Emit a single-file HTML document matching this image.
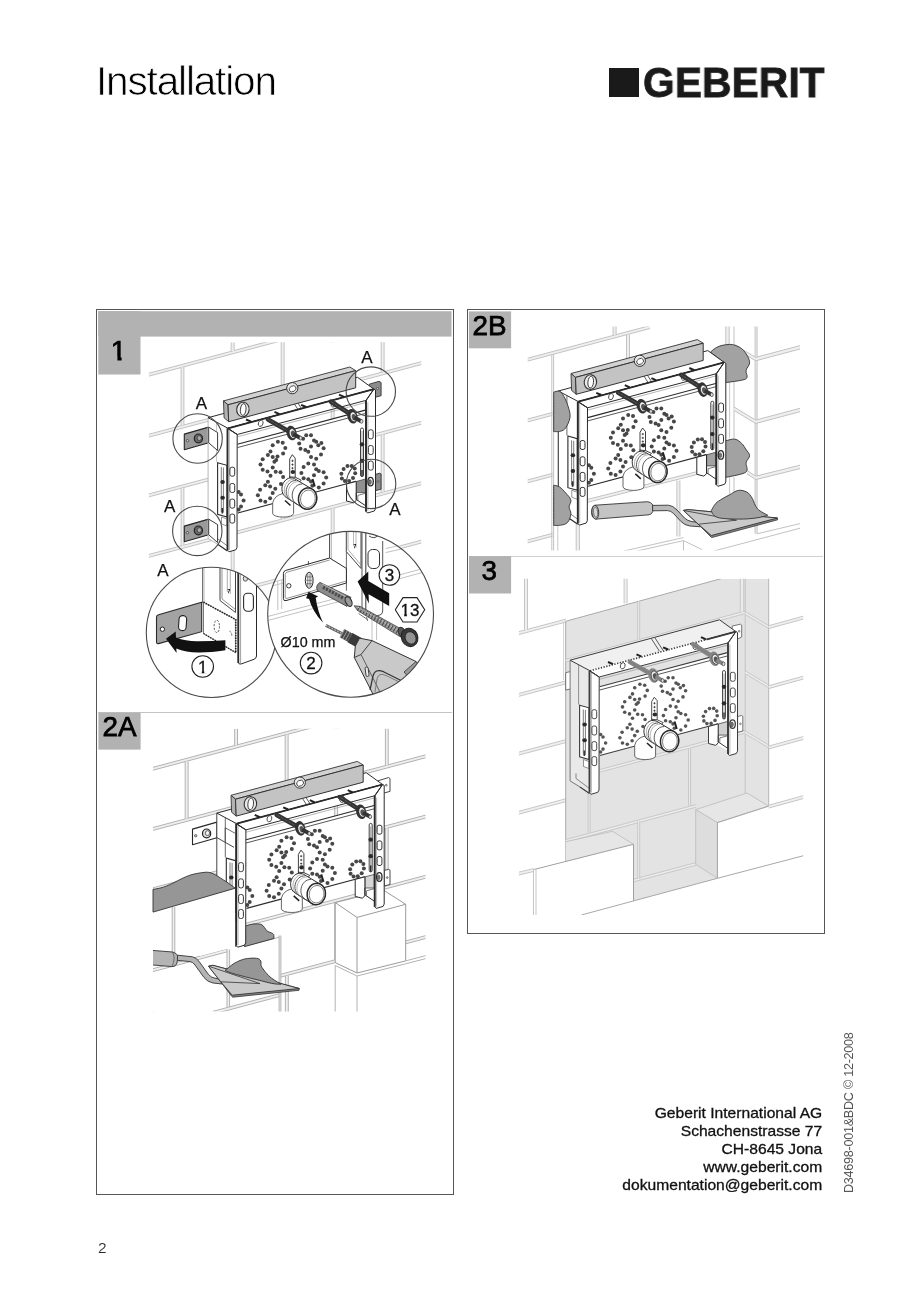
<!DOCTYPE html>
<html><head><meta charset="utf-8"><title>Installation</title>
<style>
html,body{margin:0;padding:0;background:#fff;}
body{width:920px;height:1290px;position:relative;overflow:hidden;font-family:"Liberation Sans",sans-serif;color:#111;}
.abs{position:absolute;}
h1{will-change:transform;position:absolute;left:96px;top:57.5px;margin:0;font-weight:400;font-size:40.5px;line-height:46px;letter-spacing:-1.15px;color:#000;-webkit-text-stroke:0.75px #fff;}
.logo{position:absolute;left:609px;top:68px;height:29px;}
.logo .sq{position:absolute;left:0;top:0;width:30px;height:29px;background:#1a1a1a;}
.logo .tx{position:absolute;left:33.5px;top:-7.5px;font-weight:700;font-size:41.6px;line-height:44px;letter-spacing:0.1px;color:#1a1a1a;transform-origin:0 0;transform:scaleX(0.979);-webkit-text-stroke:0.8px #1a1a1a;white-space:nowrap;will-change:transform;}
.frame{position:absolute;border:1.2px solid #555;box-sizing:border-box;}
.lab{position:absolute;background:#b3b3b3;font-size:26.5px;line-height:30px;color:#000;}
.lab span{position:absolute;white-space:nowrap;-webkit-text-stroke:0.7px #000;}
.addr{will-change:transform;position:absolute;right:98px;top:1104.2px;text-align:right;font-size:14.4px;line-height:18px;color:#111;-webkit-text-stroke:0.3px #111;white-space:nowrap;transform-origin:100% 0;transform:scaleX(1.085);}
.vert{will-change:transform;position:absolute;left:841.5px;top:1193.2px;transform-origin:0 0;transform:rotate(-90deg);font-size:12.6px;letter-spacing:-0.26px;line-height:14px;color:#555;white-space:nowrap;}
.pno{will-change:transform;position:absolute;left:97.6px;top:1239px;font-size:15.5px;line-height:18px;color:#2a2a2a;-webkit-text-stroke:0.15px #fff;}
svg{position:absolute;left:0;top:0;will-change:transform;}
</style></head><body>
<h1>Installation</h1>
<div class="logo"><div class="sq"></div><div class="tx">GEBERIT</div></div>

<div class="frame" style="left:96px;top:309px;width:358px;height:886px;"></div>
<div class="frame" style="left:466.5px;top:309px;width:358.5px;height:625px;"></div>
<!-- dividers -->
<div class="abs" style="left:98px;top:712px;width:354px;height:1px;background:#c4c4c4;"></div>
<div class="abs" style="left:468.5px;top:555.5px;width:354px;height:1px;background:#d0d0d0;"></div>
<!-- label boxes -->

<svg id="art" width="920" height="1290" viewBox="0 0 920 1290" font-family="Liberation Sans, sans-serif">
<!--PANEL1-->
<defs>
<clipPath id="c1"><rect x="148.7" y="342.3" width="272.8" height="280"/></clipPath>
<clipPath id="cd1"><circle cx="211.4" cy="632.4" r="65.1"/></clipPath>
<clipPath id="cd2"><circle cx="350.6" cy="614.3" r="82.9"/></clipPath>
</defs><g id="p1"><g clip-path="url(#c1)"><path d="M148.7 374.8 L421.5 302" fill="none" stroke="#efefef" stroke-width="2.6" /><path d="M148.7 373.3 L421.5 300.6" fill="none" stroke="#c2c2c2" stroke-width="1" /><path d="M148.7 376.2 L421.5 303.5" fill="none" stroke="#c2c2c2" stroke-width="1" /><path d="M148.7 435.8 L421.5 363" fill="none" stroke="#efefef" stroke-width="2.6" /><path d="M148.7 434.3 L421.5 361.6" fill="none" stroke="#c2c2c2" stroke-width="1" /><path d="M148.7 437.2 L421.5 364.5" fill="none" stroke="#c2c2c2" stroke-width="1" /><path d="M148.7 495.4 L421.5 422.7" fill="none" stroke="#efefef" stroke-width="2.6" /><path d="M148.7 494 L421.5 421.3" fill="none" stroke="#c2c2c2" stroke-width="1" /><path d="M148.7 496.9 L421.5 424.2" fill="none" stroke="#c2c2c2" stroke-width="1" /><path d="M148.7 556 L421.5 483.2" fill="none" stroke="#efefef" stroke-width="2.6" /><path d="M148.7 554.5 L421.5 481.8" fill="none" stroke="#c2c2c2" stroke-width="1" /><path d="M148.7 557.4 L421.5 484.7" fill="none" stroke="#c2c2c2" stroke-width="1" /><path d="M148.7 614.2 L421.5 541.5" fill="none" stroke="#efefef" stroke-width="2.6" /><path d="M148.7 612.8 L421.5 540.1" fill="none" stroke="#c2c2c2" stroke-width="1" /><path d="M148.7 615.7 L421.5 543" fill="none" stroke="#c2c2c2" stroke-width="1" /><path d="M232.7 342.3 L232.7 350.9" fill="none" stroke="#efefef" stroke-width="2.6" /><path d="M231.2 342.3 L231.2 351.3" fill="none" stroke="#c2c2c2" stroke-width="1" /><path d="M234.1 342.3 L234.1 350.5" fill="none" stroke="#c2c2c2" stroke-width="1" /><path d="M332.7 342.3 L332.7 324.3" fill="none" stroke="#efefef" stroke-width="2.6" /><path d="M331.2 342.3 L331.2 324.7" fill="none" stroke="#c2c2c2" stroke-width="1" /><path d="M334.1 342.3 L334.1 323.9" fill="none" stroke="#c2c2c2" stroke-width="1" /><path d="M182.5 367.2 L182.5 425.3" fill="none" stroke="#efefef" stroke-width="2.6" /><path d="M181.1 367.6 L181.1 425.7" fill="none" stroke="#c2c2c2" stroke-width="1" /><path d="M183.9 366.8 L183.9 424.9" fill="none" stroke="#c2c2c2" stroke-width="1" /><path d="M282.7 340.5 L282.7 398.6" fill="none" stroke="#efefef" stroke-width="2.6" /><path d="M281.2 340.9 L281.2 399" fill="none" stroke="#c2c2c2" stroke-width="1" /><path d="M284.1 340.1 L284.1 398.2" fill="none" stroke="#c2c2c2" stroke-width="1" /><path d="M382.7 313.8 L382.7 371.9" fill="none" stroke="#efefef" stroke-width="2.6" /><path d="M381.2 314.2 L381.2 372.3" fill="none" stroke="#c2c2c2" stroke-width="1" /><path d="M384.1 313.5 L384.1 371.6" fill="none" stroke="#c2c2c2" stroke-width="1" /><path d="M232.7 414.8 L232.7 471.6" fill="none" stroke="#efefef" stroke-width="2.6" /><path d="M231.2 415.2 L231.2 472" fill="none" stroke="#c2c2c2" stroke-width="1" /><path d="M234.1 414.4 L234.1 471.2" fill="none" stroke="#c2c2c2" stroke-width="1" /><path d="M332.7 388.2 L332.7 445" fill="none" stroke="#efefef" stroke-width="2.6" /><path d="M331.2 388.6 L331.2 445.4" fill="none" stroke="#c2c2c2" stroke-width="1" /><path d="M334.1 387.8 L334.1 444.6" fill="none" stroke="#c2c2c2" stroke-width="1" /><path d="M182.5 487.9 L182.5 545.5" fill="none" stroke="#efefef" stroke-width="2.6" /><path d="M181.1 488.3 L181.1 545.9" fill="none" stroke="#c2c2c2" stroke-width="1" /><path d="M183.9 487.5 L183.9 545.1" fill="none" stroke="#c2c2c2" stroke-width="1" /><path d="M282.7 461.2 L282.7 518.8" fill="none" stroke="#efefef" stroke-width="2.6" /><path d="M281.2 461.6 L281.2 519.2" fill="none" stroke="#c2c2c2" stroke-width="1" /><path d="M284.1 460.8 L284.1 518.4" fill="none" stroke="#c2c2c2" stroke-width="1" /><path d="M382.7 434.5 L382.7 492.1" fill="none" stroke="#efefef" stroke-width="2.6" /><path d="M381.2 434.9 L381.2 492.5" fill="none" stroke="#c2c2c2" stroke-width="1" /><path d="M384.1 434.2 L384.1 491.8" fill="none" stroke="#c2c2c2" stroke-width="1" /><path d="M232.7 535 L232.7 590.4" fill="none" stroke="#efefef" stroke-width="2.6" /><path d="M231.2 535.4 L231.2 590.8" fill="none" stroke="#c2c2c2" stroke-width="1" /><path d="M234.1 534.6 L234.1 590" fill="none" stroke="#c2c2c2" stroke-width="1" /><path d="M332.7 508.4 L332.7 563.8" fill="none" stroke="#efefef" stroke-width="2.6" /><path d="M331.2 508.8 L331.2 564.2" fill="none" stroke="#c2c2c2" stroke-width="1" /><path d="M334.1 508 L334.1 563.4" fill="none" stroke="#c2c2c2" stroke-width="1" /></g><path d="M208.7 519.1 L217.6 524.6 L217.6 542.5 L208.7 534.8Z" fill="#fff" stroke="#3a3a3a" stroke-width="1" /><path d="M184.3 526.1 L208.7 519.1 L208.7 534.8 L184.3 541.7Z" fill="#9a9a9a" stroke="#262626" stroke-width="1.1" stroke-linejoin="round"/><circle cx="187.5" cy="532.7" r="1.2" fill="#ccc" stroke="#333" stroke-width="0.7"/><ellipse cx="198.4" cy="530.4" rx="4.1" ry="4.4" fill="#6a6a6a" stroke="#222" stroke-width="1.2"/><ellipse cx="199.3" cy="530.1" rx="2.2" ry="2.4" fill="#a8a8a8" stroke="#333" stroke-width="0.7"/><path d="M208.7 427.1 L217.6 432.6 L217.6 450.5 L208.7 442.8Z" fill="#fff" stroke="#3a3a3a" stroke-width="1" /><path d="M184.3 434.1 L208.7 427.1 L208.7 442.8 L184.3 449.7Z" fill="#9a9a9a" stroke="#262626" stroke-width="1.1" stroke-linejoin="round"/><circle cx="187.5" cy="440.7" r="1.2" fill="#ccc" stroke="#333" stroke-width="0.7"/><ellipse cx="198.4" cy="438.4" rx="4.1" ry="4.4" fill="#6a6a6a" stroke="#222" stroke-width="1.2"/><ellipse cx="199.3" cy="438.1" rx="2.2" ry="2.4" fill="#a8a8a8" stroke="#333" stroke-width="0.7"/><path d="M369.3 384.2 L379.1 381.3 L381.1 382.6 L381.1 395.7 L376.5 397 L369.3 397Z" fill="#8c8c8c" stroke="#333" stroke-width="0.9" stroke-linejoin="round"/><circle cx="377.5" cy="388.5" r="1.1" fill="#ccc" stroke="#333" stroke-width="0.6"/><path d="M375.6 474.3 L379.8 473.2 L381.1 474 L381.1 489.3 L375.6 490.6Z" fill="#8c8c8c" stroke="#333" stroke-width="0.9" stroke-linejoin="round"/><circle cx="378" cy="481.5" r="0.9" fill="#ccc" stroke="#333" stroke-width="0.6"/><g id="asm"><path d="M208.1 417.7 L227.5 429 L227.5 551 L208.1 538.4Z" fill="#fff" stroke="none" stroke-width="1" /><path d="M208.1 417.7 L208.1 538.4 L218 544.5" fill="none" stroke="#b5b5b5" stroke-width="1" /><path d="M218 544.5 L227.5 551" fill="none" stroke="#2a2a2a" stroke-width="1.2" /><path d="M214 531 L214 536 L227.5 546" fill="none" stroke="#777" stroke-width="0.9" /><path d="M216.6 422.5 L216.6 462" fill="none" stroke="#b5b5b5" stroke-width="0.8" /><path d="M217.6 462.7 L227 465.3 L227 517 L217.6 514.4Z" fill="#fff" stroke="#2a2a2a" stroke-width="1.1" /><path d="M221.3 467 L221.3 512" fill="none" stroke="#444" stroke-width="0.7" /><path d="M223.4 467.5 L223.4 512.5" fill="none" stroke="#444" stroke-width="0.7" /><path d="M222.3 508 L222.3 513.5" fill="none" stroke="#2a2a2a" stroke-width="1.6" /><ellipse cx="222.6" cy="482" rx="2.3" ry="2" fill="#2b2b2b"/><ellipse cx="222.6" cy="497.7" rx="2.3" ry="2" fill="#2b2b2b"/><path d="M221.5 517 L227 519 L227 526 L221.5 524Z" fill="#fff" stroke="#666" stroke-width="0.7" /><path d="M208.1 417.7 L357.5 377.3 L373.9 389.1 L228 428.3Z" fill="#fff" stroke="#2a2a2a" stroke-width="1" /><path d="M289.5 396.4 L298 409.6" fill="none" stroke="#333" stroke-width="0.8" /><path d="M293 395.4 L301.5 408.7" fill="none" stroke="#333" stroke-width="0.8" /><path d="M237.5 444.5 L366 410.3 L366 478.8 L237.8 513Z" fill="#fff" stroke="none" stroke-width="1" /><path d="M228 428.3 L373.9 389.1 L366.7 400.2 L237.2 434.5Z" fill="#fff" stroke="#2a2a2a" stroke-width="1" /><path d="M228 428.3 L373.9 389.1" fill="none" stroke="#2a2a2a" stroke-width="1.8" /><path d="M237.4 444.3 L366.3 409.9" fill="none" stroke="#2a2a2a" stroke-width="1.1" /><path d="M237.4 447.6 L366.3 413.2" fill="none" stroke="#444" stroke-width="0.9" /><path d="M237.4 436.8 L366.3 402.4" fill="none" stroke="#888" stroke-width="0.6" /><path d="M237.8 513 L356 481.3" fill="none" stroke="#2a2a2a" stroke-width="1.1" /><circle cx="277.9" cy="441.8" r="2.0" fill="#474747"/><circle cx="282.7" cy="442.7" r="2.0" fill="#474747"/><circle cx="272.7" cy="445.3" r="2.0" fill="#474747"/><circle cx="285.3" cy="447.9" r="2.0" fill="#474747"/><circle cx="270.5" cy="451.4" r="2.0" fill="#474747"/><circle cx="267.9" cy="454.9" r="2.0" fill="#474747"/><circle cx="283.1" cy="453.6" r="2.0" fill="#474747"/><circle cx="262.7" cy="459.2" r="2.0" fill="#474747"/><circle cx="272.7" cy="457" r="2.0" fill="#474747"/><circle cx="277.5" cy="456.6" r="2.0" fill="#474747"/><circle cx="276.2" cy="460.1" r="2.0" fill="#474747"/><circle cx="260.5" cy="464.4" r="2.0" fill="#474747"/><circle cx="274.4" cy="461.8" r="2.0" fill="#474747"/><circle cx="262.7" cy="469.7" r="2.0" fill="#474747"/><circle cx="272.7" cy="467.5" r="2.0" fill="#474747"/><circle cx="267.5" cy="471.4" r="2.0" fill="#474747"/><circle cx="275.7" cy="471.8" r="2.0" fill="#474747"/><circle cx="280.5" cy="472.3" r="2.0" fill="#474747"/><circle cx="270.5" cy="475.7" r="2.0" fill="#474747"/><circle cx="283.1" cy="477" r="2.0" fill="#474747"/><circle cx="267.9" cy="481.8" r="2.0" fill="#474747"/><circle cx="265.3" cy="485.3" r="2.0" fill="#474747"/><circle cx="281" cy="484" r="2.0" fill="#474747"/><circle cx="260.1" cy="489.7" r="2.0" fill="#474747"/><circle cx="270.1" cy="486.6" r="2.0" fill="#474747"/><circle cx="275.3" cy="488.8" r="2.0" fill="#474747"/><circle cx="257.9" cy="495.3" r="2.0" fill="#474747"/><circle cx="272.7" cy="493.1" r="2.0" fill="#474747"/><circle cx="260.5" cy="500.5" r="2.0" fill="#474747"/><circle cx="265.3" cy="501.8" r="2.0" fill="#474747"/><circle cx="270.1" cy="498.3" r="2.0" fill="#474747"/><circle cx="306.2" cy="435.3" r="2.0" fill="#474747"/><circle cx="311" cy="435.3" r="2.0" fill="#474747"/><circle cx="299.2" cy="443.6" r="2.0" fill="#474747"/><circle cx="314" cy="440.5" r="2.0" fill="#474747"/><circle cx="316.2" cy="441.8" r="2.0" fill="#474747"/><circle cx="321.4" cy="443.1" r="2.0" fill="#474747"/><circle cx="300.5" cy="448.8" r="2.0" fill="#474747"/><circle cx="311" cy="446.6" r="2.0" fill="#474747"/><circle cx="323.6" cy="448.3" r="2.0" fill="#474747"/><circle cx="305.3" cy="450.1" r="2.0" fill="#474747"/><circle cx="308.3" cy="451.8" r="2.0" fill="#474747"/><circle cx="321" cy="454.4" r="2.0" fill="#474747"/><circle cx="311" cy="457" r="2.0" fill="#474747"/><circle cx="316.2" cy="458.8" r="2.0" fill="#474747"/><circle cx="308.3" cy="463.6" r="2.0" fill="#474747"/><circle cx="314" cy="464.4" r="2.0" fill="#474747"/><circle cx="303.6" cy="467" r="2.0" fill="#474747"/><circle cx="316.2" cy="469.2" r="2.0" fill="#474747"/><circle cx="318.8" cy="471" r="2.0" fill="#474747"/><circle cx="323.6" cy="472.3" r="2.0" fill="#474747"/><circle cx="301.4" cy="473.1" r="2.0" fill="#474747"/><circle cx="314" cy="475.3" r="2.0" fill="#474747"/><circle cx="326.2" cy="477.5" r="2.0" fill="#474747"/><circle cx="303.6" cy="478.3" r="2.0" fill="#474747"/><circle cx="308.3" cy="479.2" r="2.0" fill="#474747"/><circle cx="311" cy="481.4" r="2.0" fill="#474747"/><circle cx="323.6" cy="483.6" r="2.0" fill="#474747"/><circle cx="312.3" cy="485.7" r="2.0" fill="#474747"/><circle cx="318.8" cy="487.5" r="2.0" fill="#474747"/><circle cx="303.1" cy="438.8" r="2.0" fill="#474747"/><circle cx="318.3" cy="445.3" r="2.0" fill="#474747"/><circle cx="355.2" cy="473.2" r="2.0" fill="#474747"/><circle cx="353" cy="477.9" r="2.0" fill="#474747"/><circle cx="349.1" cy="480.9" r="2.0" fill="#474747"/><circle cx="344.9" cy="481.1" r="2.0" fill="#474747"/><circle cx="341.9" cy="478.4" r="2.0" fill="#474747"/><circle cx="341.4" cy="473.8" r="2.0" fill="#474747"/><circle cx="343.6" cy="469.1" r="2.0" fill="#474747"/><circle cx="347.5" cy="466.1" r="2.0" fill="#474747"/><circle cx="351.7" cy="465.9" r="2.0" fill="#474747"/><circle cx="354.7" cy="468.6" r="2.0" fill="#474747"/><circle cx="241" cy="494.5" r="2.0" fill="#474747"/><circle cx="243.6" cy="500.5" r="2.0" fill="#474747"/><circle cx="241" cy="506.6" r="2.0" fill="#474747"/><circle cx="238.6" cy="492" r="2.0" fill="#474747"/><circle cx="238.6" cy="509.5" r="2.0" fill="#474747"/><rect x="360.5" y="428" width="3" height="48.5" rx="1.5" fill="#fff" stroke="#2a2a2a" stroke-width="0.9"/><path d="M362 431 L362 474" fill="none" stroke="#666" stroke-width="0.6" /><ellipse cx="362" cy="444.3" rx="2.3" ry="2.1" fill="#2b2b2b"/><ellipse cx="362" cy="460.8" rx="2.3" ry="2.1" fill="#2b2b2b"/><path d="M362 470 L362 476.5" fill="none" stroke="#2a2a2a" stroke-width="1.5" /><path d="M356 481.3 L366 478.6 L366 508 L356 503Z" fill="#fff" stroke="none" stroke-width="1" /><path d="M356.3 481.5 L365.5 479 L365.5 492.6 L356.3 492.6Z" fill="#909090" stroke="#444" stroke-width="0.8" /><path d="M346.5 484 L356.2 481.4 L356.2 500.5 L353.5 502.8 L346.5 501Z" fill="#fff" stroke="#2a2a2a" stroke-width="1" stroke-linejoin="round"/><path d="M356.3 492.6 L356.3 499.5 L366 506" fill="none" stroke="#2a2a2a" stroke-width="1" /><path d="M357.8 495.4 L365.5 493.3" fill="none" stroke="#555" stroke-width="0.8" /><path d="M357.8 495.4 L357.8 500.3" fill="none" stroke="#555" stroke-width="0.8" /><path d="M208.7 519.1 L217.6 524.6 L217.6 542.5 L208.7 534.8Z" fill="#fff" stroke="#3a3a3a" stroke-width="1" /><path d="M208.7 427.1 L217.6 432.6 L217.6 450.5 L208.7 442.8Z" fill="#fff" stroke="#3a3a3a" stroke-width="1" /><path d="M227.5 428.4 L237.2 434.5 L237 547.5 L235.8 549.8 L229 551.8 L227.5 550.2Z" fill="#fff" stroke="#2a2a2a" stroke-width="1" stroke-linejoin="round"/><path d="M227.5 428.4 L227.5 550.2" fill="none" stroke="#2a2a2a" stroke-width="1.9" /><path d="M229.4 430.4 L229.4 550" fill="none" stroke="#888" stroke-width="0.6" /><rect x="229.9" y="467.2" width="4.8" height="9" rx="1.9" fill="#fff" stroke="#2a2a2a" stroke-width="0.95"/><rect x="229.9" y="483.5" width="4.8" height="9" rx="1.9" fill="#fff" stroke="#2a2a2a" stroke-width="0.95"/><rect x="229.9" y="499.1" width="4.8" height="9" rx="1.9" fill="#fff" stroke="#2a2a2a" stroke-width="0.95"/><rect x="229.9" y="514.1" width="4.8" height="9" rx="1.9" fill="#fff" stroke="#2a2a2a" stroke-width="0.95"/><path d="M366 400.2 L373.9 389.1 L375.5 390 L375.5 508.7 L374.3 511 L367.5 513 L366 511.4Z" fill="#fff" stroke="#2a2a2a" stroke-width="1" stroke-linejoin="round"/><path d="M366 400.2 L366 511.4" fill="none" stroke="#2a2a2a" stroke-width="1.9" /><path d="M367.9 402.2 L367.9 511.2" fill="none" stroke="#888" stroke-width="0.6" /><rect x="368.4" y="429.8" width="4.8" height="9" rx="1.9" fill="#fff" stroke="#2a2a2a" stroke-width="0.95"/><rect x="368.4" y="445.5" width="4.8" height="9" rx="1.9" fill="#fff" stroke="#2a2a2a" stroke-width="0.95"/><rect x="368.4" y="461.1" width="4.8" height="9" rx="1.9" fill="#fff" stroke="#2a2a2a" stroke-width="0.95"/><path d="M373.9 389.1 L366.3 400.4" fill="none" stroke="#2a2a2a" stroke-width="1" /><path d="M228 428.6 L237.2 434.5" fill="none" stroke="#2a2a2a" stroke-width="1" /><ellipse cx="370.6" cy="481.6" rx="2.7" ry="4.3" fill="#fff" stroke="#2a2a2a" stroke-width="1.3"/><ellipse cx="370" cy="482" rx="1.4" ry="2.4" fill="#777" stroke="#333" stroke-width="0.5"/><path d="M246 419.5 L251 421.7" fill="none" stroke="#222" stroke-width="2" /><path d="M274.5 411.9 L279.5 414.1" fill="none" stroke="#222" stroke-width="2" /><path d="M301.1 404.8 L306.1 407" fill="none" stroke="#222" stroke-width="2" /><path d="M339 394.7 L344 396.9" fill="none" stroke="#222" stroke-width="2" /><ellipse cx="260.7" cy="423.3" rx="2.3" ry="3.2" fill="#fff" stroke="#333" stroke-width="0.8" transform="rotate(18 260.7 423.3)"/><ellipse cx="333.5" cy="403.9" rx="2.3" ry="3.2" fill="#fff" stroke="#333" stroke-width="0.8" transform="rotate(18 333.5 403.9)"/><path d="M268 419.5 L288.6 431.2" fill="none" stroke="#333" stroke-width="4.6" stroke-linecap="round"/><path d="M268 419.5 L288.6 431.2" fill="none" stroke="#777" stroke-width="1.0" stroke-dasharray="0.7 0.9"/><ellipse cx="291.5" cy="433" rx="5" ry="7.4" fill="#333" transform="rotate(-14 291.5 433)"/><ellipse cx="292.5" cy="433.5" rx="3.2" ry="5" fill="#f2f2f2" stroke="#222" stroke-width="0.6" transform="rotate(-14 292.5 433.5)"/><ellipse cx="293.1" cy="433.9" rx="2.2" ry="3.3" fill="#555" transform="rotate(-14 293.1 433.9)"/><path d="M293.5 434.1 L300.3 437.9" fill="none" stroke="#333" stroke-width="4" /><ellipse cx="300.6" cy="438.1" rx="1.5" ry="1.9" fill="#ddd" stroke="#333" stroke-width="0.7"/><path d="M331 401.7 L349.5 413.5" fill="none" stroke="#333" stroke-width="4.6" stroke-linecap="round"/><path d="M331 401.7 L349.5 413.5" fill="none" stroke="#777" stroke-width="1.0" stroke-dasharray="0.7 0.9"/><ellipse cx="352.4" cy="416.3" rx="5" ry="7.4" fill="#333" transform="rotate(-14 352.4 416.3)"/><ellipse cx="353.4" cy="416.8" rx="3.2" ry="5" fill="#f2f2f2" stroke="#222" stroke-width="0.6" transform="rotate(-14 353.4 416.8)"/><ellipse cx="354" cy="417.2" rx="2.2" ry="3.3" fill="#555" transform="rotate(-14 354 417.2)"/><path d="M354.4 417.4 L361.2 421.2" fill="none" stroke="#333" stroke-width="4" /><ellipse cx="361.5" cy="421.4" rx="1.5" ry="1.9" fill="#ddd" stroke="#333" stroke-width="0.7"/><path d="M289.7 459 L292.3 454.7 L295.2 458.2 L295.2 478.5 L289.7 479.5Z" fill="#fff" stroke="#2a2a2a" stroke-width="0.9" stroke-linejoin="round"/><path d="M291.4 460.8 L293.6 460.8" fill="none" stroke="#222" stroke-width="0.7" /><path d="M292.5 459.7 L292.5 461.9" fill="none" stroke="#222" stroke-width="0.7" /><path d="M291.4 464.6 L293.6 464.6" fill="none" stroke="#222" stroke-width="0.7" /><path d="M292.5 463.5 L292.5 465.7" fill="none" stroke="#222" stroke-width="0.7" /><path d="M291.4 468.2 L293.6 468.2" fill="none" stroke="#222" stroke-width="0.7" /><path d="M292.5 467.1 L292.5 469.3" fill="none" stroke="#222" stroke-width="0.7" /><ellipse cx="292.9" cy="472" rx="2.3" ry="2.1" fill="#2b2b2b"/><path d="M272.7 502.7 L272.7 513.5 A10.45 3.6 0 0 0 293.6 513.5 L293.6 497 L283 493.5 Q274.5 495.5 272.7 502.7Z" fill="#fff" stroke="#555" stroke-width="0.9"/><path d="M289.4 476.8 L295.3 477.3 L301.2 480.1 L298.8 482.5 L292.3 479.6Z" fill="#fff" stroke="#2a2a2a" stroke-width="0.9" stroke-linejoin="round"/><path d="M281.9 488.3 L282.1 486.7 L282.5 485.1 L283.1 483.6 L283.9 482.2 L284.8 481 L285.9 479.9 L287.1 479 L288.4 478.4 L289.7 478 L291.1 477.9 L292.4 478 L293.7 478.3 L294.9 478.9 L312.1 489.1 L313.3 489.9 L314.4 491 L315.2 492.3 L315.9 493.7 L316.4 495.2 L316.7 496.9 L316.7 498.5 L316.6 500.2 L316.2 501.8 L315.6 503.4 L314.7 504.8 L313.8 506.1 L312.6 507.2 L311.4 508.1 L310 508.7 L308.6 509.1 L307.2 509.2 L305.7 509.1 L304.4 508.8 L303.1 508.1 L286.3 497.5 L285.1 496.6 L284.2 495.6 L283.3 494.4 L282.7 493 L282.2 491.5 L282 489.9Z" fill="#fff" stroke="#2a2a2a" stroke-width="1.0" stroke-linejoin="round"/><path d="M290.4 499.8 L288.9 499.2 L287.6 498.2 L286.4 497 L285.5 495.5 L284.8 493.8 L284.4 492 L284.3 490.1 L284.4 488.2 L284.9 486.3 L285.7 484.5 L286.7 482.9 L287.9 481.6 L289.3 480.5 L290.8 479.8 L292.4 479.3 L294 479.3" fill="none" stroke="#777" stroke-width="0.6" /><path d="M292.5 501.1 L291 500.4 L289.6 499.5 L288.4 498.2 L287.5 496.8 L286.8 495.1 L286.3 493.2 L286.2 491.3 L286.4 489.4 L286.9 487.5 L287.7 485.8 L288.7 484.2 L289.9 482.8 L291.3 481.7 L292.8 481 L294.5 480.6 L296.1 480.5" fill="none" stroke="#444" stroke-width="0.9" /><path d="M294.5 502.3 L293 501.7 L291.6 500.8 L290.4 499.5 L289.4 498 L288.7 496.3 L288.3 494.5 L288.2 492.6 L288.4 490.6 L288.9 488.7 L289.7 487 L290.7 485.4 L291.9 484 L293.3 483 L294.9 482.2 L296.5 481.8 L298.1 481.7" fill="none" stroke="#888" stroke-width="0.6" /><path d="M298.5 504.9 L297 504.3 L295.6 503.3 L294.4 502.1 L293.4 500.6 L292.7 498.8 L292.3 497 L292.2 495 L292.4 493.1 L292.9 491.2 L293.6 489.4 L294.7 487.8 L295.9 486.5 L297.3 485.4 L298.9 484.6 L300.5 484.2 L302.2 484.1" fill="none" stroke="#444" stroke-width="0.9" /><path d="M316.6 500.2 L316.2 501.8 L315.5 503.4 L314.7 504.8 L313.8 506.1 L312.6 507.2 L311.4 508.1 L310 508.7 L308.6 509.1 L307.2 509.3 L305.7 509.1 L304.4 508.8 L303.1 508.1 L301.9 507.3 L300.8 506.2 L299.9 504.9 L299.3 503.5 L298.8 502 L298.5 500.4 L298.5 498.7 L298.6 497 L299 495.4 L299.7 493.8 L300.5 492.4 L301.4 491.1 L302.6 490 L303.8 489.1 L305.2 488.5 L306.6 488.1 L308 487.9 L309.5 488.1 L310.8 488.4 L312.1 489.1 L313.3 489.9 L314.4 491 L315.3 492.3 L315.9 493.7 L316.4 495.2 L316.7 496.8 L316.7 498.5 L316.6 500.2Z" fill="#fff" stroke="#2a2a2a" stroke-width="1.5"/><path d="M315.1 500.1 L314.8 501.4 L314.3 502.7 L313.6 503.8 L312.8 504.9 L311.9 505.8 L310.9 506.5 L309.8 507 L308.7 507.3 L307.5 507.5 L306.4 507.4 L305.3 507.1 L304.2 506.6 L303.3 505.9 L302.5 505 L301.7 504 L301.2 502.8 L300.8 501.6 L300.6 500.2 L300.6 498.9 L300.7 497.5 L301 496.2 L301.5 494.9 L302.2 493.8 L303 492.7 L303.9 491.8 L304.9 491.1 L306 490.6 L307.1 490.3 L308.3 490.1 L309.4 490.2 L310.5 490.5 L311.6 491 L312.5 491.7 L313.3 492.6 L314.1 493.6 L314.6 494.8 L315 496 L315.2 497.4 L315.2 498.7 L315.1 500.1Z" fill="#fff" stroke="#555" stroke-width="0.8"/><path d="M312.5 479 L314.8 486.5" fill="none" stroke="#222" stroke-width="2" /><path d="M285 500.5 L290.5 505.5" fill="none" stroke="#222" stroke-width="1.6" /><g transform="translate(0 0)"><path d="M223.5 400.9 L349.8 367 L355.7 370.6 L228 404.8Z" fill="#d2d2d2" stroke="#333" stroke-width="0.9" stroke-linejoin="round"/><path d="M223.5 400.9 L228 404.8 L228.7 421.7 L224.1 417.8Z" fill="#b2b2b2" stroke="#333" stroke-width="0.9" stroke-linejoin="round"/><path d="M228 404.8 L355.7 370.6 L355.7 387.8 L228.7 421.7Z" fill="#c3c3c3" stroke="#333" stroke-width="1" stroke-linejoin="round"/><ellipse cx="242.9" cy="409.5" rx="6.2" ry="7.3" fill="#e9e9e9" stroke="#333" stroke-width="1.1" transform="rotate(8 242.9 409.5)"/><ellipse cx="243.2" cy="409.5" rx="2.8" ry="5.9" fill="#fff" stroke="#333" stroke-width="0.9" transform="rotate(6 243.2 409.5)"/><circle cx="292.3" cy="388.2" r="5.6" fill="#e9e9e9" stroke="#333" stroke-width="1"/><ellipse cx="292.6" cy="388.8" rx="3.6" ry="2.8" fill="#fff" stroke="#333" stroke-width="0.8" transform="rotate(-30 292.6 388.8)"/></g></g><circle cx="197.6" cy="438.5" r="24.7" fill="none" stroke="#4a4a4a" stroke-width="1.1"/><circle cx="197.3" cy="530.9" r="24.7" fill="none" stroke="#4a4a4a" stroke-width="1.1"/><circle cx="370.8" cy="391.6" r="24.7" fill="none" stroke="#4a4a4a" stroke-width="1.1"/><circle cx="371.1" cy="483.9" r="24.7" fill="none" stroke="#4a4a4a" stroke-width="1.1"/><text x="201.5" y="409.2" font-size="17" text-anchor="middle" fill="#111" stroke="#111" stroke-width="0.25">A</text><text x="169.6" y="511.8" font-size="17" text-anchor="middle" fill="#111" stroke="#111" stroke-width="0.25">A</text><text x="366.9" y="363.1" font-size="17" text-anchor="middle" fill="#111" stroke="#111" stroke-width="0.25">A</text><text x="394.8" y="514.5" font-size="17" text-anchor="middle" fill="#111" stroke="#111" stroke-width="0.25">A</text><text x="163" y="576.1" font-size="17" text-anchor="middle" fill="#111" stroke="#111" stroke-width="0.25">A</text><g clip-path="url(#cd1)"><circle cx="211.4" cy="632.4" r="65.1" fill="#fff" stroke="none" stroke-width="0"/><path d="M202.6 566 L202.6 603" fill="none" stroke="#555" stroke-width="0.9" /><path d="M204 566 L204 603" fill="none" stroke="#999" stroke-width="0.7" /><path d="M220 560 L220 600.5 L235.5 612.5 L235.5 560Z" fill="#fff" stroke="#444" stroke-width="1" /><path d="M222 560 L222 599 L235.5 609.5" fill="none" stroke="#777" stroke-width="0.8" /><path d="M227.3 560 L227.3 592" fill="none" stroke="#999" stroke-width="0.8" /><path d="M230.3 560 L230.3 594" fill="none" stroke="#999" stroke-width="0.8" /><text x="228.8" y="592.5" font-size="5" text-anchor="middle" fill="#111" stroke="#111" stroke-width="0.25">7</text><path d="M203.5 602.2 L235.7 619.6 L235.7 652.6 L203.5 633.5Z" fill="#fff" stroke="#555" stroke-width="0.8" /><path d="M203.5 602.2 L235.7 619.6 L235.7 652.6" fill="none" stroke="#222" stroke-width="1.6" stroke-dasharray="1.3 1.3"/><path d="M203.5 633.5 L235.7 652.6" fill="none" stroke="#222" stroke-width="1.4" stroke-dasharray="1.3 1.3"/><ellipse cx="216.8" cy="626.4" rx="2.7" ry="6.2" fill="none" stroke="#444" stroke-width="0.9" stroke-dasharray="2 1.6"/><path d="M229.5 631 q2.5 1.5 2.3 5" fill="none" stroke="#444" stroke-width="0.9" stroke-dasharray="2 1.4"/><path d="M158.5 614.7 L201.7 602.2 L201.7 631.7 L158.5 643.6 Q156.5 644 156.5 642 L156.5 617 Q156.5 615.2 158.5 614.7Z" fill="#a3a3a3" stroke="#2a2a2a" stroke-width="1.1"/><circle cx="162.4" cy="629.2" r="2.2" fill="#fff" stroke="#222" stroke-width="1"/><rect x="178.8" y="615.6" width="7.6" height="15" rx="3.6" fill="#fff" stroke="#222" stroke-width="1.1" transform="rotate(4 182.6 623)"/><path d="M238.3 560 L238.3 662.5 Q238.6 664.5 241 664 L254 659.3 Q256.5 658.3 256.5 656 L256.5 560Z" fill="#fff" stroke="#2a2a2a" stroke-width="1"/><path d="M238.3 560 L238.3 663" fill="none" stroke="#2a2a2a" stroke-width="1.8" /><path d="M240.6 560 L240.6 663" fill="none" stroke="#777" stroke-width="0.7" /><rect x="243.6" y="593.2" width="9.8" height="18" rx="4" fill="#fff" stroke="#2a2a2a" stroke-width="1.1"/><ellipse cx="245.4" cy="578.6" rx="2.2" ry="2.6" fill="#ddd" stroke="#333" stroke-width="0.8"/><path d="M166 638.7 L175.7 631.4 L176 637.5 Q186 641.5 198 641.3 Q212 641.2 225.4 640.2 L225.4 650.2 Q210 652.6 198 652.4 Q186 652.2 176.3 648.4 L176.6 653Z" fill="#111"/><circle cx="202.7" cy="666.5" r="10.8" fill="#fff" stroke="#222" stroke-width="1.1"/><text x="202.7" y="672.6" font-size="17" text-anchor="middle" fill="#111" stroke="#111" stroke-width="0.3">1</text><rect x="198.2" y="670.6" width="3.6" height="3" fill="#fff"/><rect x="204.3" y="670.6" width="3.3" height="3" fill="#fff"/></g><circle cx="211.4" cy="632.4" r="65.1" fill="none" stroke="#4a4a4a" stroke-width="1.1"/><g clip-path="url(#cd2)"><circle cx="350.6" cy="614.3" r="82.9" fill="#fff" stroke="none" stroke-width="0"/><path d="M262 585 L283 579.5" fill="none" stroke="#c2c2c2" stroke-width="1" /><path d="M262 588.6 L283 583.1" fill="none" stroke="#c2c2c2" stroke-width="1" /><path d="M262 618 L345 596" fill="none" stroke="#c2c2c2" stroke-width="1" /><path d="M262 622 L345 600" fill="none" stroke="#c2c2c2" stroke-width="1" /><path d="M385.5 548.6 L435 537.5" fill="none" stroke="#c2c2c2" stroke-width="1" /><path d="M385.5 552.6 L435 541.5" fill="none" stroke="#c2c2c2" stroke-width="1" /><path d="M376 581.4 L435 565.2" fill="none" stroke="#c2c2c2" stroke-width="1" /><path d="M376 585.2 L435 569" fill="none" stroke="#c2c2c2" stroke-width="1" /><path d="M277.8 581 L277.8 610" fill="none" stroke="#c2c2c2" stroke-width="1" /><path d="M281.7 580 L281.7 609" fill="none" stroke="#c2c2c2" stroke-width="1" /><path d="M372 616 L372 640" fill="none" stroke="#c2c2c2" stroke-width="1" /><path d="M376.6 615 L376.6 640" fill="none" stroke="#c2c2c2" stroke-width="1" /><path d="M329.6 525 L329.6 558" fill="none" stroke="#444" stroke-width="1" /><path d="M331.4 525 L331.4 559" fill="none" stroke="#999" stroke-width="0.7" /><path d="M346.3 525 L346.3 551.5 L361 568.5 L361 525Z" fill="#fff" stroke="#444" stroke-width="1" /><path d="M348 525 L348 549.5 L361 565" fill="none" stroke="#888" stroke-width="0.7" /><path d="M353.5 525 L353.5 546" fill="none" stroke="#999" stroke-width="0.7" /><path d="M356 525 L356 548" fill="none" stroke="#999" stroke-width="0.7" /><text x="355" y="548" font-size="5" text-anchor="middle" fill="#111" stroke="#111" stroke-width="0.25">7</text><path d="M346.4 551.5 L346.4 590.7" fill="none" stroke="#555" stroke-width="0.9" /><path d="M362 525 L362 612 L365.9 614.5 L365.9 525Z" fill="#fff" stroke="#444" stroke-width="0.9"/><path d="M365.9 525 L365.9 614.5 Q372 618 380 615 Q382.7 614 382.7 611 L382.7 541" fill="#fff" stroke="#555" stroke-width="1"/><rect x="368" y="549.5" width="11.5" height="19" rx="4.5" fill="#fff" stroke="#333" stroke-width="1"/><path d="M369 536 q5 3.5 9 -0.5" fill="none" stroke="#444" stroke-width="1"/><path d="M285.8 570.4 L329.6 558 L346.4 568.4 L346.4 583 L286 600.6 Q283.4 601.2 283.4 598.6 L283.4 573.4 Q283.4 571.1 285.8 570.4Z" fill="#fff" stroke="#2a2a2a" stroke-width="1"/><path d="M329.6 560 L287 572.2 Q285.2 572.8 285.2 574.4 L285.2 597.2 Q285.2 598.9 287 598.4 L346.4 581" fill="none" stroke="#666" stroke-width="0.7"/><path d="M308.4 561 L308.4 564.8" fill="none" stroke="#333" stroke-width="0.8" /><circle cx="288.8" cy="585.8" r="2.2" fill="#fff" stroke="#222" stroke-width="0.9"/><ellipse cx="309.2" cy="580.3" rx="3.9" ry="8" fill="#fff" stroke="#222" stroke-width="1"/><path d="M307.6 573.5 L307.6 587" fill="none" stroke="#333" stroke-width="0.5" /><path d="M309.2 573.5 L309.2 587" fill="none" stroke="#333" stroke-width="0.5" /><path d="M310.8 573.5 L310.8 587" fill="none" stroke="#333" stroke-width="0.5" /><path d="M306 576.9 L312.4 576.9" fill="none" stroke="#333" stroke-width="0.5" /><path d="M306 580.3 L312.4 580.3" fill="none" stroke="#333" stroke-width="0.5" /><path d="M306 583.7 L312.4 583.7" fill="none" stroke="#333" stroke-width="0.5" /><path d="M319.9 582.4 L351 597.4 L347 606.4 L317.6 590.6 Q314.8 586 319.9 582.4Z" fill="#8c8c8c" stroke="#333" stroke-width="0.8"/><path d="M323 587.2 L343.5 598.2" fill="none" stroke="#4a4a4a" stroke-width="3.4" stroke-dasharray="2.2 1.2"/><path d="M322 583.8 L349 598.3" fill="none" stroke="#bbb" stroke-width="0.9" /><ellipse cx="348.6" cy="601.6" rx="3" ry="5.2" fill="#999" stroke="#333" stroke-width="1.2" transform="rotate(-25 348.6 601.6)"/><path d="M354.1 605.8 L360 606.3 L404 630.5 L400.5 637 L357.5 610.5Z" fill="#9a9a9a" stroke="#333" stroke-width="0.7"/><path d="M358 608.3 L402 633.6" fill="none" stroke="#4a4a4a" stroke-width="5.2" stroke-dasharray="1.1 2.1"/><path d="M358 607.2 L402 632.4" fill="none" stroke="#ccc" stroke-width="1" stroke-dasharray="1.5 1.9"/><ellipse cx="402.5" cy="633" rx="3.6" ry="6.2" fill="#555" stroke="#222" stroke-width="0.8" transform="rotate(-28 402.5 633)"/><ellipse cx="409.6" cy="637.4" rx="8.2" ry="9.4" fill="#3a3a3a" stroke="#222" stroke-width="1" transform="rotate(-25 409.6 637.4)"/><ellipse cx="410.6" cy="637.9" rx="5.3" ry="6.4" fill="#939393" stroke="#222" stroke-width="0.8" transform="rotate(-25 410.6 637.9)"/><path d="M358.5 613.5 L367.5 619.5" fill="none" stroke="#555" stroke-width="0.8" /><path d="M366.5 617 L367.6 621" fill="none" stroke="#555" stroke-width="0.8" /><path d="M357.6 581.5 L368.3 571.4 L368.3 580.9 L389.2 593.3 L389.2 606 L368.6 594.2 L368.9 603.6Z" fill="#111"/><circle cx="389.4" cy="575" r="10.3" fill="#fff" stroke="#222" stroke-width="1.1"/><text x="389.4" y="581.1" font-size="17" text-anchor="middle" fill="#111" stroke="#111" stroke-width="0.3">3</text><path d="M395.3 609.8 L403 597.6 L417 597.6 L424.7 609.8 L417 622 L403 622Z" fill="#fff" stroke="#222" stroke-width="1.1" /><text x="410" y="616" font-size="17" text-anchor="middle" fill="#111" stroke="#111" stroke-width="0.3">13</text><rect x="400.8" y="614.1" width="3.4" height="2.8" fill="#fff"/><rect x="406.9" y="614.1" width="3" height="2.8" fill="#fff"/><path d="M308.5 591.7 L318.1 596.5 L315.7 597.7 Q317.5 611 323.1 622.8 Q312.5 611.5 309.1 598.9 L306.1 598.3Z" fill="#111"/><path d="M325.8 625.3 L343 634" fill="none" stroke="#666" stroke-width="3" /><path d="M325.8 625.3 L343 634" fill="none" stroke="#ddd" stroke-width="1" stroke-dasharray="1.6 1.6"/><path d="M342 633.2 L359.5 642.8" fill="none" stroke="#4a4a4a" stroke-width="9.5" /><path d="M342 633.2 L359.5 642.8" fill="none" stroke="#aaa" stroke-width="9.5" stroke-dasharray="0.8 2.2"/><path d="M350 637.6 L359.5 642.8" fill="none" stroke="#3a3a3a" stroke-width="10.5" /><path d="M359.5 638.2 L372 640.6 L416 661.5 L440 690 L376 700 L354.3 657.5 L355.3 646Z" fill="#c9c9c9" stroke="#333" stroke-width="1"/><path d="M372 640.6 L361 654.5 L354.3 657.5" fill="none" stroke="#333" stroke-width="0.9"/><path d="M361 654.5 L384 700" fill="none" stroke="#555" stroke-width="0.9"/><path d="M440 700 L384 672 Q375 668 373 676 L370 690" fill="none" stroke="#333" stroke-width="1.2"/><path d="M436 700 L386 675.5 Q378.5 672 377 679 L375 692" fill="none" stroke="#666" stroke-width="0.8"/><rect x="365.6" y="667" width="3" height="9.5" rx="1.5" fill="#eee" stroke="#333" stroke-width="0.9" transform="rotate(-8 367 672)"/><path d="M404 672 L416 661.5 L440 690 L430 700Z" fill="#9b9b9b" stroke="#333" stroke-width="0.8"/><text x="280.6" y="647.2" font-size="14.3" fill="#111" stroke="#111" stroke-width="0.25">Ø10 mm</text><circle cx="311.1" cy="663.1" r="10.8" fill="#fff" stroke="#222" stroke-width="1.1"/><text x="311.1" y="669.2" font-size="17" text-anchor="middle" fill="#111" stroke="#111" stroke-width="0.3">2</text></g><circle cx="350.6" cy="614.3" r="82.9" fill="none" stroke="#4a4a4a" stroke-width="1.1"/></g>
<!--/PANEL1-->
<!--PANEL2A-->
<defs><clipPath id="c2a"><rect x="153" y="728.7" width="272.7" height="282.8"/></clipPath></defs><g id="p2a"><g clip-path="url(#c2a)"><path d="M153 768.8 L425.7 696.1" fill="none" stroke="#efefef" stroke-width="2.5" /><path d="M153 767.3 L425.7 694.6" fill="none" stroke="#b2b2b2" stroke-width="1" /><path d="M153 770.2 L425.7 697.5" fill="none" stroke="#b2b2b2" stroke-width="1" /><path d="M153 829 L425.7 756.3" fill="none" stroke="#efefef" stroke-width="2.5" /><path d="M153 827.5 L425.7 754.8" fill="none" stroke="#b2b2b2" stroke-width="1" /><path d="M153 830.4 L425.7 757.7" fill="none" stroke="#b2b2b2" stroke-width="1" /><path d="M153 889.2 L425.7 816.6" fill="none" stroke="#efefef" stroke-width="2.5" /><path d="M153 887.8 L425.7 815.1" fill="none" stroke="#b2b2b2" stroke-width="1" /><path d="M153 890.7 L425.7 818" fill="none" stroke="#b2b2b2" stroke-width="1" /><path d="M153 949.5 L425.7 876.8" fill="none" stroke="#efefef" stroke-width="2.5" /><path d="M153 948 L425.7 875.3" fill="none" stroke="#b2b2b2" stroke-width="1" /><path d="M153 950.9 L425.7 878.2" fill="none" stroke="#b2b2b2" stroke-width="1" /><path d="M153 1009.8 L425.7 937.1" fill="none" stroke="#efefef" stroke-width="2.5" /><path d="M153 1008.3 L425.7 935.6" fill="none" stroke="#b2b2b2" stroke-width="1" /><path d="M153 1011.2 L425.7 938.5" fill="none" stroke="#b2b2b2" stroke-width="1" /><path d="M236.1 728.7 L236.1 745.2" fill="none" stroke="#efefef" stroke-width="2.5" /><path d="M234.7 728.7 L234.7 745.2" fill="none" stroke="#b2b2b2" stroke-width="1" /><path d="M237.5 728.7 L237.5 745.2" fill="none" stroke="#b2b2b2" stroke-width="1" /><path d="M336.1 728.7 L336.1 718.5" fill="none" stroke="#efefef" stroke-width="2.5" /><path d="M334.7 728.7 L334.7 718.5" fill="none" stroke="#b2b2b2" stroke-width="1" /><path d="M337.6 728.7 L337.6 718.5" fill="none" stroke="#b2b2b2" stroke-width="1" /><path d="M186.7 761.2 L186.7 818.5" fill="none" stroke="#efefef" stroke-width="2.5" /><path d="M185.2 761.2 L185.2 818.5" fill="none" stroke="#b2b2b2" stroke-width="1" /><path d="M188.1 761.2 L188.1 818.5" fill="none" stroke="#b2b2b2" stroke-width="1" /><path d="M286.7 734.6 L286.7 791.9" fill="none" stroke="#efefef" stroke-width="2.5" /><path d="M285.2 734.6 L285.2 791.9" fill="none" stroke="#b2b2b2" stroke-width="1" /><path d="M288.1 734.6 L288.1 791.9" fill="none" stroke="#b2b2b2" stroke-width="1" /><path d="M386.8 707.9 L386.8 765.2" fill="none" stroke="#efefef" stroke-width="2.5" /><path d="M385.4 707.9 L385.4 765.2" fill="none" stroke="#b2b2b2" stroke-width="1" /><path d="M388.2 707.9 L388.2 765.2" fill="none" stroke="#b2b2b2" stroke-width="1" /><path d="M236.1 808.3 L236.1 865.7" fill="none" stroke="#efefef" stroke-width="2.5" /><path d="M234.7 808.3 L234.7 865.7" fill="none" stroke="#b2b2b2" stroke-width="1" /><path d="M237.5 808.3 L237.5 865.7" fill="none" stroke="#b2b2b2" stroke-width="1" /><path d="M336.1 781.6 L336.1 839" fill="none" stroke="#efefef" stroke-width="2.5" /><path d="M334.7 781.6 L334.7 839" fill="none" stroke="#b2b2b2" stroke-width="1" /><path d="M337.6 781.6 L337.6 839" fill="none" stroke="#b2b2b2" stroke-width="1" /><path d="M186.7 881.7 L186.7 939" fill="none" stroke="#efefef" stroke-width="2.5" /><path d="M185.2 881.7 L185.2 939" fill="none" stroke="#b2b2b2" stroke-width="1" /><path d="M188.1 881.7 L188.1 939" fill="none" stroke="#b2b2b2" stroke-width="1" /><path d="M286.7 855.1 L286.7 912.4" fill="none" stroke="#efefef" stroke-width="2.5" /><path d="M285.2 855.1 L285.2 912.4" fill="none" stroke="#b2b2b2" stroke-width="1" /><path d="M288.1 855.1 L288.1 912.4" fill="none" stroke="#b2b2b2" stroke-width="1" /><path d="M386.8 828.4 L386.8 885.7" fill="none" stroke="#efefef" stroke-width="2.5" /><path d="M385.4 828.4 L385.4 885.7" fill="none" stroke="#b2b2b2" stroke-width="1" /><path d="M388.2 828.4 L388.2 885.7" fill="none" stroke="#b2b2b2" stroke-width="1" /><path d="M236.1 928.8 L236.1 986.2" fill="none" stroke="#efefef" stroke-width="2.5" /><path d="M234.7 928.8 L234.7 986.2" fill="none" stroke="#b2b2b2" stroke-width="1" /><path d="M237.5 928.8 L237.5 986.2" fill="none" stroke="#b2b2b2" stroke-width="1" /><path d="M336.1 902.1 L336.1 959.5" fill="none" stroke="#efefef" stroke-width="2.5" /><path d="M334.7 902.1 L334.7 959.5" fill="none" stroke="#b2b2b2" stroke-width="1" /><path d="M337.6 902.1 L337.6 959.5" fill="none" stroke="#b2b2b2" stroke-width="1" /><path d="M286.9 975.8 L286.9 1012" fill="none" stroke="#efefef" stroke-width="2.5" /><path d="M285.4 975.8 L285.4 1012" fill="none" stroke="#b2b2b2" stroke-width="1" /><path d="M288.3 975.8 L288.3 1012" fill="none" stroke="#b2b2b2" stroke-width="1" /><path d="M151 912.4 L235.3 888.2 L235.3 946.7 L151 969.2Z" fill="#fff" stroke="none" stroke-width="1" /><path d="M151 969.2 L280 934.8 L280 1013 L151 1013Z" fill="#fff" stroke="none" stroke-width="1" /><path d="M245.2 946.3 L279.6 937.2 L273 927 L245.2 934Z" fill="#fff" stroke="none" stroke-width="1" /><path d="M173.5 907 L173.5 963.2" fill="none" stroke="#efefef" stroke-width="2.2" /><path d="M172.2 907 L172.2 963.2" fill="none" stroke="#b2b2b2" stroke-width="1" /><path d="M174.8 907 L174.8 963.2" fill="none" stroke="#b2b2b2" stroke-width="1" /><path d="M153 970.1 L228 950.1" fill="none" stroke="#efefef" stroke-width="2.5" /><path d="M153 968.7 L228 948.7" fill="none" stroke="#b2b2b2" stroke-width="1" /><path d="M153 971.6 L228 951.6" fill="none" stroke="#b2b2b2" stroke-width="1" /><path d="M244.5 946.3 L279.6 937.1" fill="none" stroke="#b2b2b2" stroke-width="1" /><path d="M228.3 949.6 L228.3 1007.2" fill="none" stroke="#efefef" stroke-width="2.2" /><path d="M227 949.6 L227 1007.2" fill="none" stroke="#b2b2b2" stroke-width="1" /><path d="M229.6 949.6 L229.6 1007.2" fill="none" stroke="#b2b2b2" stroke-width="1" /><path d="M213 1012.8 L279.6 995" fill="none" stroke="#efefef" stroke-width="2.5" /><path d="M213 1011.3 L279.6 993.6" fill="none" stroke="#b2b2b2" stroke-width="1" /><path d="M213 1014.2 L279.6 996.5" fill="none" stroke="#b2b2b2" stroke-width="1" /><path d="M280 935.5 L280 1012" fill="none" stroke="#efefef" stroke-width="1.5" /><path d="M279.1 935.5 L279.1 1012" fill="none" stroke="#b2b2b2" stroke-width="1" /><path d="M280.9 935.5 L280.9 1012" fill="none" stroke="#b2b2b2" stroke-width="1" /><path d="M335.2 902.6 L383.9 890.4 L405.7 904.3 L405.7 960.9 L425.7 955.5 L425.7 1012 L335.2 1012Z" fill="#fff" stroke="none" stroke-width="1" /><path d="M335.2 902.6 L383.9 890.4 L405.7 904.3 L357 917.4 L335.2 902.6" fill="none" stroke="#9a9a9a" stroke-width="1" /><path d="M335.2 902.6 L335.2 962.6 L357 973 L357 917.4" fill="none" stroke="#9a9a9a" stroke-width="1" /><path d="M405.7 904.3 L405.7 960.9 L357 973" fill="none" stroke="#9a9a9a" stroke-width="1" /><path d="M335.2 965.5 L357 976 L405.7 963.8 L425.7 958.6" fill="none" stroke="#b2b2b2" stroke-width="1" /><path d="M405.7 960.9 L425.7 955.6" fill="none" stroke="#b2b2b2" stroke-width="1" /><path d="M335.2 965.5 L335.2 1012" fill="none" stroke="#b2b2b2" stroke-width="1" /><path d="M357 976 L357 1012" fill="none" stroke="#b2b2b2" stroke-width="1" /></g><path d="M245.2 926.5 C248 924.5 257 922.8 261.7 924.6 C264 926 265 929 267 930.9 C269 932.8 273.9 932.5 273.9 935.5 L273.9 938.5 L244.5 946.6Z" fill="#969696" stroke="#333" stroke-width="0.9" stroke-linejoin="round"/><path d="M216.9 822.1 L225.8 827.6 L225.8 845.5 L216.9 837.8Z" fill="#fff" stroke="#3a3a3a" stroke-width="1" /><path d="M192.5 829.1 L216.9 822.1 L216.9 837.8 L192.5 844.7Z" fill="#fff" stroke="#262626" stroke-width="1.1" stroke-linejoin="round"/><circle cx="195.7" cy="835.7" r="1.2" fill="#ccc" stroke="#333" stroke-width="0.7"/><ellipse cx="206.6" cy="833.4" rx="4.1" ry="4.4" fill="#ddd" stroke="#222" stroke-width="1.2"/><ellipse cx="207.5" cy="833.1" rx="2.2" ry="2.4" fill="#f4f4f4" stroke="#333" stroke-width="0.7"/><path d="M384.2 870.5 L388.6 869.3 L390 870.2 L390 884.5 L384.2 886Z" fill="#fff" stroke="#333" stroke-width="0.9" stroke-linejoin="round"/><circle cx="387.2" cy="877.6" r="0.9" fill="#ccc" stroke="#333" stroke-width="0.6"/><path d="M378 780.8 L388.6 777.5 L390 778.6 L390 791.4 L384 793 L378 793Z" fill="#fff" stroke="#333" stroke-width="0.9" stroke-linejoin="round"/><circle cx="386.3" cy="785.2" r="0.9" fill="#ccc" stroke="#333" stroke-width="0.6"/><g transform="translate(8.7 395.4)"><path d="M208.1 417.7 L227.5 429 L227.5 551 L208.1 538.4Z" fill="#fff" stroke="none" stroke-width="1" /><path d="M208.1 417.7 L208.1 538.4 L218 544.5" fill="none" stroke="#444" stroke-width="1" /><path d="M218 544.5 L227.5 551" fill="none" stroke="#2a2a2a" stroke-width="1.2" /><path d="M214 531 L214 536 L227.5 546" fill="none" stroke="#777" stroke-width="0.9" /><path d="M216.6 422.5 L216.6 462" fill="none" stroke="#444" stroke-width="0.8" /><path d="M217.6 462.7 L227 465.3 L227 517 L217.6 514.4Z" fill="#fff" stroke="#2a2a2a" stroke-width="1.1" /><path d="M221.3 467 L221.3 512" fill="none" stroke="#444" stroke-width="0.7" /><path d="M223.4 467.5 L223.4 512.5" fill="none" stroke="#444" stroke-width="0.7" /><path d="M222.3 508 L222.3 513.5" fill="none" stroke="#2a2a2a" stroke-width="1.6" /><ellipse cx="222.6" cy="482" rx="2.3" ry="2" fill="#2b2b2b"/><ellipse cx="222.6" cy="497.7" rx="2.3" ry="2" fill="#2b2b2b"/><path d="M221.5 517 L227 519 L227 526 L221.5 524Z" fill="#fff" stroke="#666" stroke-width="0.7" /><path d="M208.1 417.7 L357.5 377.3 L373.9 389.1 L228 428.3Z" fill="#fff" stroke="#2a2a2a" stroke-width="1" /><path d="M289.5 396.4 L298 409.6" fill="none" stroke="#333" stroke-width="0.8" /><path d="M293 395.4 L301.5 408.7" fill="none" stroke="#333" stroke-width="0.8" /><path d="M237.5 444.5 L366 410.3 L366 478.8 L237.8 513Z" fill="#fff" stroke="none" stroke-width="1" /><path d="M228 428.3 L373.9 389.1 L366.7 400.2 L237.2 434.5Z" fill="#fff" stroke="#2a2a2a" stroke-width="1" /><path d="M228 428.3 L373.9 389.1" fill="none" stroke="#2a2a2a" stroke-width="1.8" /><path d="M237.4 444.3 L366.3 409.9" fill="none" stroke="#2a2a2a" stroke-width="1.1" /><path d="M237.4 447.6 L366.3 413.2" fill="none" stroke="#444" stroke-width="0.9" /><path d="M237.4 436.8 L366.3 402.4" fill="none" stroke="#888" stroke-width="0.6" /><path d="M237.8 513 L356 481.3" fill="none" stroke="#2a2a2a" stroke-width="1.1" /><circle cx="277.9" cy="441.8" r="2.0" fill="#474747"/><circle cx="282.7" cy="442.7" r="2.0" fill="#474747"/><circle cx="272.7" cy="445.3" r="2.0" fill="#474747"/><circle cx="285.3" cy="447.9" r="2.0" fill="#474747"/><circle cx="270.5" cy="451.4" r="2.0" fill="#474747"/><circle cx="267.9" cy="454.9" r="2.0" fill="#474747"/><circle cx="283.1" cy="453.6" r="2.0" fill="#474747"/><circle cx="262.7" cy="459.2" r="2.0" fill="#474747"/><circle cx="272.7" cy="457" r="2.0" fill="#474747"/><circle cx="277.5" cy="456.6" r="2.0" fill="#474747"/><circle cx="276.2" cy="460.1" r="2.0" fill="#474747"/><circle cx="260.5" cy="464.4" r="2.0" fill="#474747"/><circle cx="274.4" cy="461.8" r="2.0" fill="#474747"/><circle cx="262.7" cy="469.7" r="2.0" fill="#474747"/><circle cx="272.7" cy="467.5" r="2.0" fill="#474747"/><circle cx="267.5" cy="471.4" r="2.0" fill="#474747"/><circle cx="275.7" cy="471.8" r="2.0" fill="#474747"/><circle cx="280.5" cy="472.3" r="2.0" fill="#474747"/><circle cx="270.5" cy="475.7" r="2.0" fill="#474747"/><circle cx="283.1" cy="477" r="2.0" fill="#474747"/><circle cx="267.9" cy="481.8" r="2.0" fill="#474747"/><circle cx="265.3" cy="485.3" r="2.0" fill="#474747"/><circle cx="281" cy="484" r="2.0" fill="#474747"/><circle cx="260.1" cy="489.7" r="2.0" fill="#474747"/><circle cx="270.1" cy="486.6" r="2.0" fill="#474747"/><circle cx="275.3" cy="488.8" r="2.0" fill="#474747"/><circle cx="257.9" cy="495.3" r="2.0" fill="#474747"/><circle cx="272.7" cy="493.1" r="2.0" fill="#474747"/><circle cx="260.5" cy="500.5" r="2.0" fill="#474747"/><circle cx="265.3" cy="501.8" r="2.0" fill="#474747"/><circle cx="270.1" cy="498.3" r="2.0" fill="#474747"/><circle cx="306.2" cy="435.3" r="2.0" fill="#474747"/><circle cx="311" cy="435.3" r="2.0" fill="#474747"/><circle cx="299.2" cy="443.6" r="2.0" fill="#474747"/><circle cx="314" cy="440.5" r="2.0" fill="#474747"/><circle cx="316.2" cy="441.8" r="2.0" fill="#474747"/><circle cx="321.4" cy="443.1" r="2.0" fill="#474747"/><circle cx="300.5" cy="448.8" r="2.0" fill="#474747"/><circle cx="311" cy="446.6" r="2.0" fill="#474747"/><circle cx="323.6" cy="448.3" r="2.0" fill="#474747"/><circle cx="305.3" cy="450.1" r="2.0" fill="#474747"/><circle cx="308.3" cy="451.8" r="2.0" fill="#474747"/><circle cx="321" cy="454.4" r="2.0" fill="#474747"/><circle cx="311" cy="457" r="2.0" fill="#474747"/><circle cx="316.2" cy="458.8" r="2.0" fill="#474747"/><circle cx="308.3" cy="463.6" r="2.0" fill="#474747"/><circle cx="314" cy="464.4" r="2.0" fill="#474747"/><circle cx="303.6" cy="467" r="2.0" fill="#474747"/><circle cx="316.2" cy="469.2" r="2.0" fill="#474747"/><circle cx="318.8" cy="471" r="2.0" fill="#474747"/><circle cx="323.6" cy="472.3" r="2.0" fill="#474747"/><circle cx="301.4" cy="473.1" r="2.0" fill="#474747"/><circle cx="314" cy="475.3" r="2.0" fill="#474747"/><circle cx="326.2" cy="477.5" r="2.0" fill="#474747"/><circle cx="303.6" cy="478.3" r="2.0" fill="#474747"/><circle cx="308.3" cy="479.2" r="2.0" fill="#474747"/><circle cx="311" cy="481.4" r="2.0" fill="#474747"/><circle cx="323.6" cy="483.6" r="2.0" fill="#474747"/><circle cx="312.3" cy="485.7" r="2.0" fill="#474747"/><circle cx="318.8" cy="487.5" r="2.0" fill="#474747"/><circle cx="303.1" cy="438.8" r="2.0" fill="#474747"/><circle cx="318.3" cy="445.3" r="2.0" fill="#474747"/><circle cx="355.2" cy="473.2" r="2.0" fill="#474747"/><circle cx="353" cy="477.9" r="2.0" fill="#474747"/><circle cx="349.1" cy="480.9" r="2.0" fill="#474747"/><circle cx="344.9" cy="481.1" r="2.0" fill="#474747"/><circle cx="341.9" cy="478.4" r="2.0" fill="#474747"/><circle cx="341.4" cy="473.8" r="2.0" fill="#474747"/><circle cx="343.6" cy="469.1" r="2.0" fill="#474747"/><circle cx="347.5" cy="466.1" r="2.0" fill="#474747"/><circle cx="351.7" cy="465.9" r="2.0" fill="#474747"/><circle cx="354.7" cy="468.6" r="2.0" fill="#474747"/><circle cx="241" cy="494.5" r="2.0" fill="#474747"/><circle cx="243.6" cy="500.5" r="2.0" fill="#474747"/><circle cx="241" cy="506.6" r="2.0" fill="#474747"/><circle cx="238.6" cy="492" r="2.0" fill="#474747"/><circle cx="238.6" cy="509.5" r="2.0" fill="#474747"/><rect x="360.5" y="428" width="3" height="48.5" rx="1.5" fill="#fff" stroke="#2a2a2a" stroke-width="0.9"/><path d="M362 431 L362 474" fill="none" stroke="#666" stroke-width="0.6" /><ellipse cx="362" cy="444.3" rx="2.3" ry="2.1" fill="#2b2b2b"/><ellipse cx="362" cy="460.8" rx="2.3" ry="2.1" fill="#2b2b2b"/><path d="M362 470 L362 476.5" fill="none" stroke="#2a2a2a" stroke-width="1.5" /><path d="M356 481.3 L366 478.6 L366 508 L356 503Z" fill="#fff" stroke="none" stroke-width="1" /><path d="M356.3 481.5 L365.5 479 L365.5 492.6 L356.3 492.6Z" fill="#d5d5d5" stroke="#444" stroke-width="0.8" /><path d="M346.5 484 L356.2 481.4 L356.2 500.5 L353.5 502.8 L346.5 501Z" fill="#fff" stroke="#2a2a2a" stroke-width="1" stroke-linejoin="round"/><path d="M356.3 492.6 L356.3 499.5 L366 506" fill="none" stroke="#2a2a2a" stroke-width="1" /><path d="M357.8 495.4 L365.5 493.3" fill="none" stroke="#555" stroke-width="0.8" /><path d="M357.8 495.4 L357.8 500.3" fill="none" stroke="#555" stroke-width="0.8" /><g transform="translate(-8.7 -395.4)"><path d="M200 898.3 L235.3 888.2 L235.3 946.7 L200 956.1Z" fill="#fff" stroke="none" stroke-width="1" /><path d="M153 889.3 C160 888.5 166 887 178.3 880.4 C186 876.5 192 873.4 206.1 872.2 C213 872 217 876 227 882.2 L235.3 888.2 L153 912.1Z" fill="#969696" stroke="#333" stroke-width="0.9" stroke-linejoin="round"/><path d="M216.5 837.4 L233.9 847.3" fill="none" stroke="#333" stroke-width="0.9" /><path d="M225.2 827.8 L225.2 842.4" fill="none" stroke="#444" stroke-width="0.8" /><path d="M225.2 827.8 L235 833.2" fill="none" stroke="#444" stroke-width="0.8" /></g><path d="M227.5 428.4 L237.2 434.5 L237 547.5 L235.8 549.8 L229 551.8 L227.5 550.2Z" fill="#fff" stroke="#2a2a2a" stroke-width="1" stroke-linejoin="round"/><path d="M227.5 428.4 L227.5 550.2" fill="none" stroke="#2a2a2a" stroke-width="1.9" /><path d="M229.4 430.4 L229.4 550" fill="none" stroke="#888" stroke-width="0.6" /><rect x="229.9" y="467.2" width="4.8" height="9" rx="1.9" fill="#fff" stroke="#2a2a2a" stroke-width="0.95"/><rect x="229.9" y="483.5" width="4.8" height="9" rx="1.9" fill="#fff" stroke="#2a2a2a" stroke-width="0.95"/><rect x="229.9" y="499.1" width="4.8" height="9" rx="1.9" fill="#fff" stroke="#2a2a2a" stroke-width="0.95"/><rect x="229.9" y="514.1" width="4.8" height="9" rx="1.9" fill="#fff" stroke="#2a2a2a" stroke-width="0.95"/><path d="M366 400.2 L373.9 389.1 L375.5 390 L375.5 508.7 L374.3 511 L367.5 513 L366 511.4Z" fill="#fff" stroke="#2a2a2a" stroke-width="1" stroke-linejoin="round"/><path d="M366 400.2 L366 511.4" fill="none" stroke="#2a2a2a" stroke-width="1.9" /><path d="M367.9 402.2 L367.9 511.2" fill="none" stroke="#888" stroke-width="0.6" /><rect x="368.4" y="429.8" width="4.8" height="9" rx="1.9" fill="#fff" stroke="#2a2a2a" stroke-width="0.95"/><rect x="368.4" y="445.5" width="4.8" height="9" rx="1.9" fill="#fff" stroke="#2a2a2a" stroke-width="0.95"/><rect x="368.4" y="461.1" width="4.8" height="9" rx="1.9" fill="#fff" stroke="#2a2a2a" stroke-width="0.95"/><path d="M373.9 389.1 L366.3 400.4" fill="none" stroke="#2a2a2a" stroke-width="1" /><path d="M228 428.6 L237.2 434.5" fill="none" stroke="#2a2a2a" stroke-width="1" /><ellipse cx="370.6" cy="481.6" rx="2.7" ry="4.3" fill="#fff" stroke="#2a2a2a" stroke-width="1.3"/><ellipse cx="370" cy="482" rx="1.4" ry="2.4" fill="#777" stroke="#333" stroke-width="0.5"/><path d="M246 419.5 L251 421.7" fill="none" stroke="#222" stroke-width="2" /><path d="M274.5 411.9 L279.5 414.1" fill="none" stroke="#222" stroke-width="2" /><path d="M301.1 404.8 L306.1 407" fill="none" stroke="#222" stroke-width="2" /><path d="M339 394.7 L344 396.9" fill="none" stroke="#222" stroke-width="2" /><ellipse cx="260.7" cy="423.3" rx="2.3" ry="3.2" fill="#fff" stroke="#333" stroke-width="0.8" transform="rotate(18 260.7 423.3)"/><ellipse cx="333.5" cy="403.9" rx="2.3" ry="3.2" fill="#fff" stroke="#333" stroke-width="0.8" transform="rotate(18 333.5 403.9)"/><path d="M268 419.5 L288.6 431.2" fill="none" stroke="#333" stroke-width="4.6" stroke-linecap="round"/><path d="M268 419.5 L288.6 431.2" fill="none" stroke="#777" stroke-width="1.0" stroke-dasharray="0.7 0.9"/><ellipse cx="291.5" cy="433" rx="5" ry="7.4" fill="#333" transform="rotate(-14 291.5 433)"/><ellipse cx="292.5" cy="433.5" rx="3.2" ry="5" fill="#f2f2f2" stroke="#222" stroke-width="0.6" transform="rotate(-14 292.5 433.5)"/><ellipse cx="293.1" cy="433.9" rx="2.2" ry="3.3" fill="#555" transform="rotate(-14 293.1 433.9)"/><path d="M293.5 434.1 L300.3 437.9" fill="none" stroke="#333" stroke-width="4" /><ellipse cx="300.6" cy="438.1" rx="1.5" ry="1.9" fill="#ddd" stroke="#333" stroke-width="0.7"/><path d="M331 401.7 L349.5 413.5" fill="none" stroke="#333" stroke-width="4.6" stroke-linecap="round"/><path d="M331 401.7 L349.5 413.5" fill="none" stroke="#777" stroke-width="1.0" stroke-dasharray="0.7 0.9"/><ellipse cx="352.4" cy="416.3" rx="5" ry="7.4" fill="#333" transform="rotate(-14 352.4 416.3)"/><ellipse cx="353.4" cy="416.8" rx="3.2" ry="5" fill="#f2f2f2" stroke="#222" stroke-width="0.6" transform="rotate(-14 353.4 416.8)"/><ellipse cx="354" cy="417.2" rx="2.2" ry="3.3" fill="#555" transform="rotate(-14 354 417.2)"/><path d="M354.4 417.4 L361.2 421.2" fill="none" stroke="#333" stroke-width="4" /><ellipse cx="361.5" cy="421.4" rx="1.5" ry="1.9" fill="#ddd" stroke="#333" stroke-width="0.7"/><path d="M289.7 459 L292.3 454.7 L295.2 458.2 L295.2 478.5 L289.7 479.5Z" fill="#fff" stroke="#2a2a2a" stroke-width="0.9" stroke-linejoin="round"/><path d="M291.4 460.8 L293.6 460.8" fill="none" stroke="#222" stroke-width="0.7" /><path d="M292.5 459.7 L292.5 461.9" fill="none" stroke="#222" stroke-width="0.7" /><path d="M291.4 464.6 L293.6 464.6" fill="none" stroke="#222" stroke-width="0.7" /><path d="M292.5 463.5 L292.5 465.7" fill="none" stroke="#222" stroke-width="0.7" /><path d="M291.4 468.2 L293.6 468.2" fill="none" stroke="#222" stroke-width="0.7" /><path d="M292.5 467.1 L292.5 469.3" fill="none" stroke="#222" stroke-width="0.7" /><ellipse cx="292.9" cy="472" rx="2.3" ry="2.1" fill="#2b2b2b"/><path d="M272.7 502.7 L272.7 513.5 A10.45 3.6 0 0 0 293.6 513.5 L293.6 497 L283 493.5 Q274.5 495.5 272.7 502.7Z" fill="#fff" stroke="#555" stroke-width="0.9"/><path d="M289.4 476.8 L295.3 477.3 L301.2 480.1 L298.8 482.5 L292.3 479.6Z" fill="#fff" stroke="#2a2a2a" stroke-width="0.9" stroke-linejoin="round"/><path d="M281.9 488.3 L282.1 486.7 L282.5 485.1 L283.1 483.6 L283.9 482.2 L284.8 481 L285.9 479.9 L287.1 479 L288.4 478.4 L289.7 478 L291.1 477.9 L292.4 478 L293.7 478.3 L294.9 478.9 L312.1 489.1 L313.3 489.9 L314.4 491 L315.2 492.3 L315.9 493.7 L316.4 495.2 L316.7 496.9 L316.7 498.5 L316.6 500.2 L316.2 501.8 L315.6 503.4 L314.7 504.8 L313.8 506.1 L312.6 507.2 L311.4 508.1 L310 508.7 L308.6 509.1 L307.2 509.2 L305.7 509.1 L304.4 508.8 L303.1 508.1 L286.3 497.5 L285.1 496.6 L284.2 495.6 L283.3 494.4 L282.7 493 L282.2 491.5 L282 489.9Z" fill="#fff" stroke="#2a2a2a" stroke-width="1.0" stroke-linejoin="round"/><path d="M290.4 499.8 L288.9 499.2 L287.6 498.2 L286.4 497 L285.5 495.5 L284.8 493.8 L284.4 492 L284.3 490.1 L284.4 488.2 L284.9 486.3 L285.7 484.5 L286.7 482.9 L287.9 481.6 L289.3 480.5 L290.8 479.8 L292.4 479.3 L294 479.3" fill="none" stroke="#777" stroke-width="0.6" /><path d="M292.5 501.1 L291 500.4 L289.6 499.5 L288.4 498.2 L287.5 496.8 L286.8 495.1 L286.3 493.2 L286.2 491.3 L286.4 489.4 L286.9 487.5 L287.7 485.8 L288.7 484.2 L289.9 482.8 L291.3 481.7 L292.8 481 L294.5 480.6 L296.1 480.5" fill="none" stroke="#444" stroke-width="0.9" /><path d="M294.5 502.3 L293 501.7 L291.6 500.8 L290.4 499.5 L289.4 498 L288.7 496.3 L288.3 494.5 L288.2 492.6 L288.4 490.6 L288.9 488.7 L289.7 487 L290.7 485.4 L291.9 484 L293.3 483 L294.9 482.2 L296.5 481.8 L298.1 481.7" fill="none" stroke="#888" stroke-width="0.6" /><path d="M298.5 504.9 L297 504.3 L295.6 503.3 L294.4 502.1 L293.4 500.6 L292.7 498.8 L292.3 497 L292.2 495 L292.4 493.1 L292.9 491.2 L293.6 489.4 L294.7 487.8 L295.9 486.5 L297.3 485.4 L298.9 484.6 L300.5 484.2 L302.2 484.1" fill="none" stroke="#444" stroke-width="0.9" /><path d="M316.6 500.2 L316.2 501.8 L315.5 503.4 L314.7 504.8 L313.8 506.1 L312.6 507.2 L311.4 508.1 L310 508.7 L308.6 509.1 L307.2 509.3 L305.7 509.1 L304.4 508.8 L303.1 508.1 L301.9 507.3 L300.8 506.2 L299.9 504.9 L299.3 503.5 L298.8 502 L298.5 500.4 L298.5 498.7 L298.6 497 L299 495.4 L299.7 493.8 L300.5 492.4 L301.4 491.1 L302.6 490 L303.8 489.1 L305.2 488.5 L306.6 488.1 L308 487.9 L309.5 488.1 L310.8 488.4 L312.1 489.1 L313.3 489.9 L314.4 491 L315.3 492.3 L315.9 493.7 L316.4 495.2 L316.7 496.8 L316.7 498.5 L316.6 500.2Z" fill="#fff" stroke="#2a2a2a" stroke-width="1.5"/><path d="M315.1 500.1 L314.8 501.4 L314.3 502.7 L313.6 503.8 L312.8 504.9 L311.9 505.8 L310.9 506.5 L309.8 507 L308.7 507.3 L307.5 507.5 L306.4 507.4 L305.3 507.1 L304.2 506.6 L303.3 505.9 L302.5 505 L301.7 504 L301.2 502.8 L300.8 501.6 L300.6 500.2 L300.6 498.9 L300.7 497.5 L301 496.2 L301.5 494.9 L302.2 493.8 L303 492.7 L303.9 491.8 L304.9 491.1 L306 490.6 L307.1 490.3 L308.3 490.1 L309.4 490.2 L310.5 490.5 L311.6 491 L312.5 491.7 L313.3 492.6 L314.1 493.6 L314.6 494.8 L315 496 L315.2 497.4 L315.2 498.7 L315.1 500.1Z" fill="#fff" stroke="#555" stroke-width="0.8"/><path d="M312.5 479 L314.8 486.5" fill="none" stroke="#222" stroke-width="2" /><path d="M285 500.5 L290.5 505.5" fill="none" stroke="#222" stroke-width="1.6" /><g transform="translate(-1.2 -1)"><path d="M223.5 400.9 L349.8 367 L355.7 370.6 L228 404.8Z" fill="#d2d2d2" stroke="#333" stroke-width="0.9" stroke-linejoin="round"/><path d="M223.5 400.9 L228 404.8 L228.7 421.7 L224.1 417.8Z" fill="#b2b2b2" stroke="#333" stroke-width="0.9" stroke-linejoin="round"/><path d="M228 404.8 L355.7 370.6 L355.7 387.8 L228.7 421.7Z" fill="#c3c3c3" stroke="#333" stroke-width="1" stroke-linejoin="round"/><ellipse cx="242.9" cy="409.5" rx="6.2" ry="7.3" fill="#e9e9e9" stroke="#333" stroke-width="1.1" transform="rotate(8 242.9 409.5)"/><ellipse cx="243.2" cy="409.5" rx="2.8" ry="5.9" fill="#fff" stroke="#333" stroke-width="0.9" transform="rotate(6 243.2 409.5)"/><circle cx="292.3" cy="388.2" r="5.6" fill="#e9e9e9" stroke="#333" stroke-width="1"/><ellipse cx="292.6" cy="388.8" rx="3.6" ry="2.8" fill="#fff" stroke="#333" stroke-width="0.8" transform="rotate(-30 292.6 388.8)"/></g></g><g clip-path="url(#c2a)"><path d="M150 950.2 L172.5 952 Q178 953.5 178 958 L176.6 964 Q175.5 966.8 172 966.6 L150 964.8Z" fill="#b4b4b4" stroke="#333" stroke-width="0.9"/><path d="M172.5 952 Q176 958 172 966.6" fill="none" stroke="#555" stroke-width="0.8"/><path d="M177.6 955.2 L192.5 956.8 Q196.5 957.6 199.5 962 L208.5 974.5 Q211 977.8 216 978.4 L221.5 979.3 L222 984 L213 983 Q207.5 982 204 977.5 L195 965 Q193 962 190 961.6 L177.3 960.3Z" fill="#b4b4b4" stroke="#333" stroke-width="0.9" stroke-linejoin="round"/><path d="M208.5 966.2 L213 965.3 L299.3 988.5 L299 990.3 L232.6 997.2 L231 995.4 L220.7 981.8Z" fill="#858585" stroke="#333" stroke-width="0.8" stroke-linejoin="round"/><path d="M208.5 966.2 L213 965.3 L299.3 988.5 L232.2 995.2 L220.7 981.8Z" fill="#cacaca" stroke="#333" stroke-width="0.9" stroke-linejoin="round"/><path d="M209.2 966.4 L260 983.6 L220.9 981.8" fill="none" stroke="#333" stroke-width="0.8" /><path d="M225 970.4 C230 966.5 233 963.6 237.4 961.7 C241 960 244 958.8 247.8 958.5 C252 958 258.5 957.6 260.2 960 C262 962.5 260 965 261.8 967.2 C264 970.5 266 973 268.7 975.7 C272 979 277 981.6 281 984.2 C275 984.6 268 982.6 261.7 980.9 C254 979 247 977.3 240.9 975.7 C235 974.2 229 972.6 225 970.4Z" fill="#969696" stroke="#333" stroke-width="0.9" stroke-linejoin="round"/></g></g>
<!--/PANEL2A-->
<!--PANEL2B-->
<defs><clipPath id="c2b"><rect x="527.4" y="326.6" width="272.6" height="224"/></clipPath></defs><g id="p2b"><g clip-path="url(#c2b)"><path d="M527.4 359.8 L650 327.1" fill="none" stroke="#efefef" stroke-width="2.5" /><path d="M527.4 358.3 L650 325.6" fill="none" stroke="#c2c2c2" stroke-width="1" /><path d="M527.4 361.2 L650 328.5" fill="none" stroke="#c2c2c2" stroke-width="1" /><path d="M527.4 420.6 L552.6 413.8" fill="none" stroke="#efefef" stroke-width="2.5" /><path d="M527.4 419.1 L552.6 412.4" fill="none" stroke="#c2c2c2" stroke-width="1" /><path d="M527.4 422 L552.6 415.3" fill="none" stroke="#c2c2c2" stroke-width="1" /><path d="M527.4 481.4 L552.6 474.7" fill="none" stroke="#efefef" stroke-width="2.5" /><path d="M527.4 480 L552.6 473.3" fill="none" stroke="#c2c2c2" stroke-width="1" /><path d="M527.4 482.9 L552.6 476.2" fill="none" stroke="#c2c2c2" stroke-width="1" /><path d="M527.4 541.5 L552.6 534.7" fill="none" stroke="#efefef" stroke-width="2.5" /><path d="M527.4 540 L552.6 533.3" fill="none" stroke="#c2c2c2" stroke-width="1" /><path d="M527.4 542.9 L552.6 536.2" fill="none" stroke="#c2c2c2" stroke-width="1" /><path d="M614.6 326 L614.6 335.1" fill="none" stroke="#efefef" stroke-width="2.5" /><path d="M613.1 326 L613.1 335.1" fill="none" stroke="#c2c2c2" stroke-width="1" /><path d="M616.1 326 L616.1 335.1" fill="none" stroke="#c2c2c2" stroke-width="1" /><path d="M628 334.7 L628 371.5" fill="none" stroke="#efefef" stroke-width="2.5" /><path d="M626.5 334.7 L626.5 371.5" fill="none" stroke="#c2c2c2" stroke-width="1" /><path d="M629.5 334.7 L629.5 371.5" fill="none" stroke="#c2c2c2" stroke-width="1" /><path d="M551.8 355 L551.8 551" fill="none" stroke="#c2c2c2" stroke-width="1" /><path d="M553.6 354.5 L553.6 551" fill="none" stroke="#c2c2c2" stroke-width="1" /><path d="M557.8 432 L557.8 486" fill="none" stroke="#c2c2c2" stroke-width="0.9" /><path d="M557.8 526 L557.8 551" fill="none" stroke="#c2c2c2" stroke-width="0.9" /><path d="M579 503.1 L716 468.2" fill="none" stroke="#efefef" stroke-width="2.5" /><path d="M579 501.6 L716 466.8" fill="none" stroke="#c2c2c2" stroke-width="1" /><path d="M579 504.5 L716 469.7" fill="none" stroke="#c2c2c2" stroke-width="1" /><path d="M678.4 480.5 L678.4 536.5" fill="none" stroke="#efefef" stroke-width="2.5" /><path d="M676.9 480.5 L676.9 536.5" fill="none" stroke="#c2c2c2" stroke-width="1" /><path d="M679.9 480.5 L679.9 536.5" fill="none" stroke="#c2c2c2" stroke-width="1" /><path d="M577.8 524 L577.8 551" fill="none" stroke="#efefef" stroke-width="2.8000000000000003" /><path d="M576.2 524 L576.2 551" fill="none" stroke="#c2c2c2" stroke-width="1" /><path d="M579.4 524 L579.4 551" fill="none" stroke="#c2c2c2" stroke-width="1" /><path d="M624 551 L683.5 537.6" fill="none" stroke="#c2c2c2" stroke-width="1" /><path d="M637 551 L683.5 540.6" fill="none" stroke="#c2c2c2" stroke-width="1" /><path d="M683.5 540.6 L683.5 551" fill="none" stroke="#c2c2c2" stroke-width="1" /><path d="M683.5 540.6 L702 549.6" fill="none" stroke="#c2c2c2" stroke-width="1" /><path d="M714 551 L800 528.2" fill="none" stroke="#c2c2c2" stroke-width="1" /><path d="M727.5 326 L727.5 344" fill="none" stroke="#efefef" stroke-width="3.0" /><path d="M725.8 326 L725.8 344" fill="none" stroke="#c2c2c2" stroke-width="1" /><path d="M729.2 326 L729.2 344" fill="none" stroke="#c2c2c2" stroke-width="1" /><path d="M734 326 L734 344.3" fill="none" stroke="#c2c2c2" stroke-width="1" /><path d="M734 382 L734 438" fill="none" stroke="#c2c2c2" stroke-width="1" /><path d="M729.6 382 L729.6 438" fill="none" stroke="#c2c2c2" stroke-width="0.9" /><path d="M734 477 L734 492" fill="none" stroke="#c2c2c2" stroke-width="1" /><path d="M729.6 477 L729.6 520" fill="none" stroke="#c2c2c2" stroke-width="0.9" /><path d="M756.1 326 L756.1 533.8" fill="none" stroke="#efefef" stroke-width="1.5" /><path d="M755.1 326 L755.1 533.8" fill="none" stroke="#c2c2c2" stroke-width="1" /><path d="M757.1 326 L757.1 533.8" fill="none" stroke="#c2c2c2" stroke-width="1" /><path d="M734 346 L755.7 359.1" fill="none" stroke="#efefef" stroke-width="3.0" /><path d="M734 344.3 L755.7 357.4" fill="none" stroke="#c2c2c2" stroke-width="1" /><path d="M734 347.7 L755.7 360.8" fill="none" stroke="#c2c2c2" stroke-width="1" /><path d="M755.7 359.1 L800 347.3" fill="none" stroke="#efefef" stroke-width="3.0" /><path d="M755.7 357.4 L800 345.6" fill="none" stroke="#c2c2c2" stroke-width="1" /><path d="M755.7 360.8 L800 349" fill="none" stroke="#c2c2c2" stroke-width="1" /><path d="M734 408.7 L755.7 421.8" fill="none" stroke="#efefef" stroke-width="3.0" /><path d="M734 407 L755.7 420.1" fill="none" stroke="#c2c2c2" stroke-width="1" /><path d="M734 410.4 L755.7 423.5" fill="none" stroke="#c2c2c2" stroke-width="1" /><path d="M755.7 421.8 L800 410" fill="none" stroke="#efefef" stroke-width="3.0" /><path d="M755.7 420.1 L800 408.3" fill="none" stroke="#c2c2c2" stroke-width="1" /><path d="M755.7 423.5 L800 411.7" fill="none" stroke="#c2c2c2" stroke-width="1" /><path d="M747 472.2 L755.7 477.9" fill="none" stroke="#efefef" stroke-width="3.0" /><path d="M747 470.5 L755.7 476.2" fill="none" stroke="#c2c2c2" stroke-width="1" /><path d="M747 473.9 L755.7 479.6" fill="none" stroke="#c2c2c2" stroke-width="1" /><path d="M755.7 477.9 L800 466.9" fill="none" stroke="#efefef" stroke-width="3.0" /><path d="M755.7 476.2 L800 465.2" fill="none" stroke="#c2c2c2" stroke-width="1" /><path d="M755.7 479.6 L800 468.6" fill="none" stroke="#c2c2c2" stroke-width="1" /><path d="M757 533.8 L800 523.6" fill="none" stroke="#c2c2c2" stroke-width="1" /></g><path d="M710.4 352.2 C710.4 352.2 714.4 348.4 717.4 347 C720.4 345.6 723.9 344.9 727 344.6 C730.1 344.3 731.8 344.2 734.8 345.2 C737.8 346.2 740.8 347.4 743.5 350.4 C746.2 353.4 749.1 358.1 749.6 361.7 C750.1 365.3 746.6 367.6 746.1 370.4 C745.6 373.2 747.8 375.6 747 377.4 C746.2 379.2 745.6 379.3 741.7 380.2 C737.8 381.1 725.2 382.6 725.2 382.6 C725.2 382.6 725.2 363.5 725.2 363.5 C725.2 363.5 710.4 352.2 710.4 352.2Z" fill="#a2a2a2" stroke="#333" stroke-width="0.9" stroke-linejoin="round"/><path d="M716 442.5 C716 442.5 721.8 441.5 725.2 440.9 C728.6 440.3 731.8 438.6 734.8 439.1 C737.8 439.6 739.7 441.6 741.7 443.5 C743.7 445.4 744.7 447.4 746.1 449.6 C747.5 451.8 749.6 453.4 749.6 455.7 C749.6 458 746.6 460 746.1 462.6 C745.6 465.2 747.8 468.4 747 470.4 C746.2 472.4 745.6 472.6 741.7 473.9 C737.8 475.2 725.2 477.4 725.2 477.4 C725.2 477.4 716 479 716 479 C716 479 716 442.5 716 442.5Z" fill="#a2a2a2" stroke="#333" stroke-width="0.9" stroke-linejoin="round"/><g transform="translate(350.3 -26.7)"><path d="M208.1 417.7 L227.5 429 L227.5 551 L208.1 538.4Z" fill="#fff" stroke="none" stroke-width="1" /><path d="M208.1 417.7 L208.1 538.4 L218 544.5" fill="none" stroke="#444" stroke-width="1" /><path d="M218 544.5 L227.5 551" fill="none" stroke="#2a2a2a" stroke-width="1.2" /><path d="M214 531 L214 536 L227.5 546" fill="none" stroke="#777" stroke-width="0.9" /><path d="M216.6 422.5 L216.6 462" fill="none" stroke="#444" stroke-width="0.8" /><path d="M217.6 462.7 L227 465.3 L227 517 L217.6 514.4Z" fill="#fff" stroke="#2a2a2a" stroke-width="1.1" /><path d="M221.3 467 L221.3 512" fill="none" stroke="#444" stroke-width="0.7" /><path d="M223.4 467.5 L223.4 512.5" fill="none" stroke="#444" stroke-width="0.7" /><path d="M222.3 508 L222.3 513.5" fill="none" stroke="#2a2a2a" stroke-width="1.6" /><ellipse cx="222.6" cy="482" rx="2.3" ry="2" fill="#2b2b2b"/><ellipse cx="222.6" cy="497.7" rx="2.3" ry="2" fill="#2b2b2b"/><path d="M221.5 517 L227 519 L227 526 L221.5 524Z" fill="#fff" stroke="#666" stroke-width="0.7" /><path d="M208.1 417.7 L357.5 377.3 L373.9 389.1 L228 428.3Z" fill="#fff" stroke="#2a2a2a" stroke-width="1" /><path d="M289.5 396.4 L298 409.6" fill="none" stroke="#333" stroke-width="0.8" /><path d="M293 395.4 L301.5 408.7" fill="none" stroke="#333" stroke-width="0.8" /><path d="M237.5 444.5 L366 410.3 L366 478.8 L237.8 513Z" fill="#fff" stroke="none" stroke-width="1" /><path d="M228 428.3 L373.9 389.1 L366.7 400.2 L237.2 434.5Z" fill="#fff" stroke="#2a2a2a" stroke-width="1" /><path d="M228 428.3 L373.9 389.1" fill="none" stroke="#2a2a2a" stroke-width="1.8" /><path d="M237.4 444.3 L366.3 409.9" fill="none" stroke="#2a2a2a" stroke-width="1.1" /><path d="M237.4 447.6 L366.3 413.2" fill="none" stroke="#444" stroke-width="0.9" /><path d="M237.4 436.8 L366.3 402.4" fill="none" stroke="#888" stroke-width="0.6" /><path d="M237.8 513 L356 481.3" fill="none" stroke="#2a2a2a" stroke-width="1.1" /><circle cx="277.9" cy="441.8" r="2.0" fill="#474747"/><circle cx="282.7" cy="442.7" r="2.0" fill="#474747"/><circle cx="272.7" cy="445.3" r="2.0" fill="#474747"/><circle cx="285.3" cy="447.9" r="2.0" fill="#474747"/><circle cx="270.5" cy="451.4" r="2.0" fill="#474747"/><circle cx="267.9" cy="454.9" r="2.0" fill="#474747"/><circle cx="283.1" cy="453.6" r="2.0" fill="#474747"/><circle cx="262.7" cy="459.2" r="2.0" fill="#474747"/><circle cx="272.7" cy="457" r="2.0" fill="#474747"/><circle cx="277.5" cy="456.6" r="2.0" fill="#474747"/><circle cx="276.2" cy="460.1" r="2.0" fill="#474747"/><circle cx="260.5" cy="464.4" r="2.0" fill="#474747"/><circle cx="274.4" cy="461.8" r="2.0" fill="#474747"/><circle cx="262.7" cy="469.7" r="2.0" fill="#474747"/><circle cx="272.7" cy="467.5" r="2.0" fill="#474747"/><circle cx="267.5" cy="471.4" r="2.0" fill="#474747"/><circle cx="275.7" cy="471.8" r="2.0" fill="#474747"/><circle cx="280.5" cy="472.3" r="2.0" fill="#474747"/><circle cx="270.5" cy="475.7" r="2.0" fill="#474747"/><circle cx="283.1" cy="477" r="2.0" fill="#474747"/><circle cx="267.9" cy="481.8" r="2.0" fill="#474747"/><circle cx="265.3" cy="485.3" r="2.0" fill="#474747"/><circle cx="281" cy="484" r="2.0" fill="#474747"/><circle cx="260.1" cy="489.7" r="2.0" fill="#474747"/><circle cx="270.1" cy="486.6" r="2.0" fill="#474747"/><circle cx="275.3" cy="488.8" r="2.0" fill="#474747"/><circle cx="257.9" cy="495.3" r="2.0" fill="#474747"/><circle cx="272.7" cy="493.1" r="2.0" fill="#474747"/><circle cx="260.5" cy="500.5" r="2.0" fill="#474747"/><circle cx="265.3" cy="501.8" r="2.0" fill="#474747"/><circle cx="270.1" cy="498.3" r="2.0" fill="#474747"/><circle cx="306.2" cy="435.3" r="2.0" fill="#474747"/><circle cx="311" cy="435.3" r="2.0" fill="#474747"/><circle cx="299.2" cy="443.6" r="2.0" fill="#474747"/><circle cx="314" cy="440.5" r="2.0" fill="#474747"/><circle cx="316.2" cy="441.8" r="2.0" fill="#474747"/><circle cx="321.4" cy="443.1" r="2.0" fill="#474747"/><circle cx="300.5" cy="448.8" r="2.0" fill="#474747"/><circle cx="311" cy="446.6" r="2.0" fill="#474747"/><circle cx="323.6" cy="448.3" r="2.0" fill="#474747"/><circle cx="305.3" cy="450.1" r="2.0" fill="#474747"/><circle cx="308.3" cy="451.8" r="2.0" fill="#474747"/><circle cx="321" cy="454.4" r="2.0" fill="#474747"/><circle cx="311" cy="457" r="2.0" fill="#474747"/><circle cx="316.2" cy="458.8" r="2.0" fill="#474747"/><circle cx="308.3" cy="463.6" r="2.0" fill="#474747"/><circle cx="314" cy="464.4" r="2.0" fill="#474747"/><circle cx="303.6" cy="467" r="2.0" fill="#474747"/><circle cx="316.2" cy="469.2" r="2.0" fill="#474747"/><circle cx="318.8" cy="471" r="2.0" fill="#474747"/><circle cx="323.6" cy="472.3" r="2.0" fill="#474747"/><circle cx="301.4" cy="473.1" r="2.0" fill="#474747"/><circle cx="314" cy="475.3" r="2.0" fill="#474747"/><circle cx="326.2" cy="477.5" r="2.0" fill="#474747"/><circle cx="303.6" cy="478.3" r="2.0" fill="#474747"/><circle cx="308.3" cy="479.2" r="2.0" fill="#474747"/><circle cx="311" cy="481.4" r="2.0" fill="#474747"/><circle cx="323.6" cy="483.6" r="2.0" fill="#474747"/><circle cx="312.3" cy="485.7" r="2.0" fill="#474747"/><circle cx="318.8" cy="487.5" r="2.0" fill="#474747"/><circle cx="303.1" cy="438.8" r="2.0" fill="#474747"/><circle cx="318.3" cy="445.3" r="2.0" fill="#474747"/><circle cx="355.2" cy="473.2" r="2.0" fill="#474747"/><circle cx="353" cy="477.9" r="2.0" fill="#474747"/><circle cx="349.1" cy="480.9" r="2.0" fill="#474747"/><circle cx="344.9" cy="481.1" r="2.0" fill="#474747"/><circle cx="341.9" cy="478.4" r="2.0" fill="#474747"/><circle cx="341.4" cy="473.8" r="2.0" fill="#474747"/><circle cx="343.6" cy="469.1" r="2.0" fill="#474747"/><circle cx="347.5" cy="466.1" r="2.0" fill="#474747"/><circle cx="351.7" cy="465.9" r="2.0" fill="#474747"/><circle cx="354.7" cy="468.6" r="2.0" fill="#474747"/><circle cx="241" cy="494.5" r="2.0" fill="#474747"/><circle cx="243.6" cy="500.5" r="2.0" fill="#474747"/><circle cx="241" cy="506.6" r="2.0" fill="#474747"/><circle cx="238.6" cy="492" r="2.0" fill="#474747"/><circle cx="238.6" cy="509.5" r="2.0" fill="#474747"/><rect x="360.5" y="428" width="3" height="48.5" rx="1.5" fill="#fff" stroke="#2a2a2a" stroke-width="0.9"/><path d="M362 431 L362 474" fill="none" stroke="#666" stroke-width="0.6" /><ellipse cx="362" cy="444.3" rx="2.3" ry="2.1" fill="#2b2b2b"/><ellipse cx="362" cy="460.8" rx="2.3" ry="2.1" fill="#2b2b2b"/><path d="M362 470 L362 476.5" fill="none" stroke="#2a2a2a" stroke-width="1.5" /><path d="M356 481.3 L366 478.6 L366 508 L356 503Z" fill="#fff" stroke="none" stroke-width="1" /><path d="M356.3 481.5 L365.5 479 L365.5 492.6 L356.3 492.6Z" fill="#a2a2a2" stroke="#444" stroke-width="0.8" /><path d="M346.5 484 L356.2 481.4 L356.2 500.5 L353.5 502.8 L346.5 501Z" fill="#fff" stroke="#2a2a2a" stroke-width="1" stroke-linejoin="round"/><path d="M356.3 492.6 L356.3 499.5 L366 506" fill="none" stroke="#2a2a2a" stroke-width="1" /><path d="M357.8 495.4 L365.5 493.3" fill="none" stroke="#555" stroke-width="0.8" /><path d="M357.8 495.4 L357.8 500.3" fill="none" stroke="#555" stroke-width="0.8" /><g transform="translate(-350.3 26.7)"><path d="M553.7 392.2 C553.7 392.2 557.8 390.4 559.6 391.2 C561.4 392 562.3 393.7 563.9 396.5 C565.5 399.3 567.2 403.2 568.3 407 C569.4 410.8 570.5 413.7 570 417.4 C569.5 421.1 567.4 425.3 565.7 427.8 C564 430.3 562.6 430.6 560.4 431.3 C558.2 432 553.7 431.5 553.7 431.5 C553.7 431.5 553.7 392.2 553.7 392.2Z" fill="#a2a2a2" stroke="#333" stroke-width="0.9" stroke-linejoin="round"/><path d="M553.7 485.2 C553.7 485.2 557.4 485.6 559.6 487 C561.8 488.4 563.7 490.7 565.7 493 C567.7 495.3 570.3 497.5 570.9 500 C571.5 502.5 569.1 504.5 569.1 507 C569.1 509.5 571.2 511.1 570.9 513.9 C570.6 516.7 569.3 520.6 567.4 522.6 C565.5 524.6 562.9 524.7 560.4 525.2 C557.9 525.7 553.7 525.4 553.7 525.4 C553.7 525.4 553.7 485.2 553.7 485.2Z" fill="#a2a2a2" stroke="#333" stroke-width="0.9" stroke-linejoin="round"/></g><path d="M227.5 428.4 L237.2 434.5 L237 547.5 L235.8 549.8 L229 551.8 L227.5 550.2Z" fill="#fff" stroke="#2a2a2a" stroke-width="1" stroke-linejoin="round"/><path d="M227.5 428.4 L227.5 550.2" fill="none" stroke="#2a2a2a" stroke-width="1.9" /><path d="M229.4 430.4 L229.4 550" fill="none" stroke="#888" stroke-width="0.6" /><rect x="229.9" y="467.2" width="4.8" height="9" rx="1.9" fill="#fff" stroke="#2a2a2a" stroke-width="0.95"/><rect x="229.9" y="483.5" width="4.8" height="9" rx="1.9" fill="#fff" stroke="#2a2a2a" stroke-width="0.95"/><rect x="229.9" y="499.1" width="4.8" height="9" rx="1.9" fill="#fff" stroke="#2a2a2a" stroke-width="0.95"/><rect x="229.9" y="514.1" width="4.8" height="9" rx="1.9" fill="#fff" stroke="#2a2a2a" stroke-width="0.95"/><path d="M366 400.2 L373.9 389.1 L375.5 390 L375.5 508.7 L374.3 511 L367.5 513 L366 511.4Z" fill="#fff" stroke="#2a2a2a" stroke-width="1" stroke-linejoin="round"/><path d="M366 400.2 L366 511.4" fill="none" stroke="#2a2a2a" stroke-width="1.9" /><path d="M367.9 402.2 L367.9 511.2" fill="none" stroke="#888" stroke-width="0.6" /><rect x="368.4" y="429.8" width="4.8" height="9" rx="1.9" fill="#fff" stroke="#2a2a2a" stroke-width="0.95"/><rect x="368.4" y="445.5" width="4.8" height="9" rx="1.9" fill="#fff" stroke="#2a2a2a" stroke-width="0.95"/><rect x="368.4" y="461.1" width="4.8" height="9" rx="1.9" fill="#fff" stroke="#2a2a2a" stroke-width="0.95"/><path d="M373.9 389.1 L366.3 400.4" fill="none" stroke="#2a2a2a" stroke-width="1" /><path d="M228 428.6 L237.2 434.5" fill="none" stroke="#2a2a2a" stroke-width="1" /><ellipse cx="370.6" cy="481.6" rx="2.7" ry="4.3" fill="#fff" stroke="#2a2a2a" stroke-width="1.3"/><ellipse cx="370" cy="482" rx="1.4" ry="2.4" fill="#777" stroke="#333" stroke-width="0.5"/><path d="M246 419.5 L251 421.7" fill="none" stroke="#222" stroke-width="2" /><path d="M274.5 411.9 L279.5 414.1" fill="none" stroke="#222" stroke-width="2" /><path d="M301.1 404.8 L306.1 407" fill="none" stroke="#222" stroke-width="2" /><path d="M339 394.7 L344 396.9" fill="none" stroke="#222" stroke-width="2" /><ellipse cx="260.7" cy="423.3" rx="2.3" ry="3.2" fill="#fff" stroke="#333" stroke-width="0.8" transform="rotate(18 260.7 423.3)"/><ellipse cx="333.5" cy="403.9" rx="2.3" ry="3.2" fill="#fff" stroke="#333" stroke-width="0.8" transform="rotate(18 333.5 403.9)"/><path d="M268 419.5 L288.6 431.2" fill="none" stroke="#333" stroke-width="4.6" stroke-linecap="round"/><path d="M268 419.5 L288.6 431.2" fill="none" stroke="#777" stroke-width="1.0" stroke-dasharray="0.7 0.9"/><ellipse cx="291.5" cy="433" rx="5" ry="7.4" fill="#333" transform="rotate(-14 291.5 433)"/><ellipse cx="292.5" cy="433.5" rx="3.2" ry="5" fill="#f2f2f2" stroke="#222" stroke-width="0.6" transform="rotate(-14 292.5 433.5)"/><ellipse cx="293.1" cy="433.9" rx="2.2" ry="3.3" fill="#555" transform="rotate(-14 293.1 433.9)"/><path d="M293.5 434.1 L300.3 437.9" fill="none" stroke="#333" stroke-width="4" /><ellipse cx="300.6" cy="438.1" rx="1.5" ry="1.9" fill="#ddd" stroke="#333" stroke-width="0.7"/><path d="M331 401.7 L349.5 413.5" fill="none" stroke="#333" stroke-width="4.6" stroke-linecap="round"/><path d="M331 401.7 L349.5 413.5" fill="none" stroke="#777" stroke-width="1.0" stroke-dasharray="0.7 0.9"/><ellipse cx="352.4" cy="416.3" rx="5" ry="7.4" fill="#333" transform="rotate(-14 352.4 416.3)"/><ellipse cx="353.4" cy="416.8" rx="3.2" ry="5" fill="#f2f2f2" stroke="#222" stroke-width="0.6" transform="rotate(-14 353.4 416.8)"/><ellipse cx="354" cy="417.2" rx="2.2" ry="3.3" fill="#555" transform="rotate(-14 354 417.2)"/><path d="M354.4 417.4 L361.2 421.2" fill="none" stroke="#333" stroke-width="4" /><ellipse cx="361.5" cy="421.4" rx="1.5" ry="1.9" fill="#ddd" stroke="#333" stroke-width="0.7"/><path d="M289.7 459 L292.3 454.7 L295.2 458.2 L295.2 478.5 L289.7 479.5Z" fill="#fff" stroke="#2a2a2a" stroke-width="0.9" stroke-linejoin="round"/><path d="M291.4 460.8 L293.6 460.8" fill="none" stroke="#222" stroke-width="0.7" /><path d="M292.5 459.7 L292.5 461.9" fill="none" stroke="#222" stroke-width="0.7" /><path d="M291.4 464.6 L293.6 464.6" fill="none" stroke="#222" stroke-width="0.7" /><path d="M292.5 463.5 L292.5 465.7" fill="none" stroke="#222" stroke-width="0.7" /><path d="M291.4 468.2 L293.6 468.2" fill="none" stroke="#222" stroke-width="0.7" /><path d="M292.5 467.1 L292.5 469.3" fill="none" stroke="#222" stroke-width="0.7" /><ellipse cx="292.9" cy="472" rx="2.3" ry="2.1" fill="#2b2b2b"/><path d="M272.7 502.7 L272.7 513.5 A10.45 3.6 0 0 0 293.6 513.5 L293.6 497 L283 493.5 Q274.5 495.5 272.7 502.7Z" fill="#fff" stroke="#555" stroke-width="0.9"/><path d="M289.4 476.8 L295.3 477.3 L301.2 480.1 L298.8 482.5 L292.3 479.6Z" fill="#fff" stroke="#2a2a2a" stroke-width="0.9" stroke-linejoin="round"/><path d="M281.9 488.3 L282.1 486.7 L282.5 485.1 L283.1 483.6 L283.9 482.2 L284.8 481 L285.9 479.9 L287.1 479 L288.4 478.4 L289.7 478 L291.1 477.9 L292.4 478 L293.7 478.3 L294.9 478.9 L312.1 489.1 L313.3 489.9 L314.4 491 L315.2 492.3 L315.9 493.7 L316.4 495.2 L316.7 496.9 L316.7 498.5 L316.6 500.2 L316.2 501.8 L315.6 503.4 L314.7 504.8 L313.8 506.1 L312.6 507.2 L311.4 508.1 L310 508.7 L308.6 509.1 L307.2 509.2 L305.7 509.1 L304.4 508.8 L303.1 508.1 L286.3 497.5 L285.1 496.6 L284.2 495.6 L283.3 494.4 L282.7 493 L282.2 491.5 L282 489.9Z" fill="#fff" stroke="#2a2a2a" stroke-width="1.0" stroke-linejoin="round"/><path d="M290.4 499.8 L288.9 499.2 L287.6 498.2 L286.4 497 L285.5 495.5 L284.8 493.8 L284.4 492 L284.3 490.1 L284.4 488.2 L284.9 486.3 L285.7 484.5 L286.7 482.9 L287.9 481.6 L289.3 480.5 L290.8 479.8 L292.4 479.3 L294 479.3" fill="none" stroke="#777" stroke-width="0.6" /><path d="M292.5 501.1 L291 500.4 L289.6 499.5 L288.4 498.2 L287.5 496.8 L286.8 495.1 L286.3 493.2 L286.2 491.3 L286.4 489.4 L286.9 487.5 L287.7 485.8 L288.7 484.2 L289.9 482.8 L291.3 481.7 L292.8 481 L294.5 480.6 L296.1 480.5" fill="none" stroke="#444" stroke-width="0.9" /><path d="M294.5 502.3 L293 501.7 L291.6 500.8 L290.4 499.5 L289.4 498 L288.7 496.3 L288.3 494.5 L288.2 492.6 L288.4 490.6 L288.9 488.7 L289.7 487 L290.7 485.4 L291.9 484 L293.3 483 L294.9 482.2 L296.5 481.8 L298.1 481.7" fill="none" stroke="#888" stroke-width="0.6" /><path d="M298.5 504.9 L297 504.3 L295.6 503.3 L294.4 502.1 L293.4 500.6 L292.7 498.8 L292.3 497 L292.2 495 L292.4 493.1 L292.9 491.2 L293.6 489.4 L294.7 487.8 L295.9 486.5 L297.3 485.4 L298.9 484.6 L300.5 484.2 L302.2 484.1" fill="none" stroke="#444" stroke-width="0.9" /><path d="M316.6 500.2 L316.2 501.8 L315.5 503.4 L314.7 504.8 L313.8 506.1 L312.6 507.2 L311.4 508.1 L310 508.7 L308.6 509.1 L307.2 509.3 L305.7 509.1 L304.4 508.8 L303.1 508.1 L301.9 507.3 L300.8 506.2 L299.9 504.9 L299.3 503.5 L298.8 502 L298.5 500.4 L298.5 498.7 L298.6 497 L299 495.4 L299.7 493.8 L300.5 492.4 L301.4 491.1 L302.6 490 L303.8 489.1 L305.2 488.5 L306.6 488.1 L308 487.9 L309.5 488.1 L310.8 488.4 L312.1 489.1 L313.3 489.9 L314.4 491 L315.3 492.3 L315.9 493.7 L316.4 495.2 L316.7 496.8 L316.7 498.5 L316.6 500.2Z" fill="#fff" stroke="#2a2a2a" stroke-width="1.5"/><path d="M315.1 500.1 L314.8 501.4 L314.3 502.7 L313.6 503.8 L312.8 504.9 L311.9 505.8 L310.9 506.5 L309.8 507 L308.7 507.3 L307.5 507.5 L306.4 507.4 L305.3 507.1 L304.2 506.6 L303.3 505.9 L302.5 505 L301.7 504 L301.2 502.8 L300.8 501.6 L300.6 500.2 L300.6 498.9 L300.7 497.5 L301 496.2 L301.5 494.9 L302.2 493.8 L303 492.7 L303.9 491.8 L304.9 491.1 L306 490.6 L307.1 490.3 L308.3 490.1 L309.4 490.2 L310.5 490.5 L311.6 491 L312.5 491.7 L313.3 492.6 L314.1 493.6 L314.6 494.8 L315 496 L315.2 497.4 L315.2 498.7 L315.1 500.1Z" fill="#fff" stroke="#555" stroke-width="0.8"/><path d="M312.5 479 L314.8 486.5" fill="none" stroke="#222" stroke-width="2" /><path d="M285 500.5 L290.5 505.5" fill="none" stroke="#222" stroke-width="1.6" /><g transform="translate(-2.8 -0.7)"><path d="M223.5 400.9 L349.8 367 L355.7 370.6 L228 404.8Z" fill="#d2d2d2" stroke="#333" stroke-width="0.9" stroke-linejoin="round"/><path d="M223.5 400.9 L228 404.8 L228.7 421.7 L224.1 417.8Z" fill="#b2b2b2" stroke="#333" stroke-width="0.9" stroke-linejoin="round"/><path d="M228 404.8 L355.7 370.6 L355.7 387.8 L228.7 421.7Z" fill="#c3c3c3" stroke="#333" stroke-width="1" stroke-linejoin="round"/><ellipse cx="242.9" cy="409.5" rx="6.2" ry="7.3" fill="#e9e9e9" stroke="#333" stroke-width="1.1" transform="rotate(8 242.9 409.5)"/><ellipse cx="243.2" cy="409.5" rx="2.8" ry="5.9" fill="#fff" stroke="#333" stroke-width="0.9" transform="rotate(6 243.2 409.5)"/><circle cx="292.3" cy="388.2" r="5.6" fill="#e9e9e9" stroke="#333" stroke-width="1"/><ellipse cx="292.6" cy="388.8" rx="3.6" ry="2.8" fill="#fff" stroke="#333" stroke-width="0.8" transform="rotate(-30 292.6 388.8)"/></g></g><path d="M595.2 505.2 L647.4 501.7 Q651 501.8 652.8 505 L652.8 511.5 Q651.5 514.6 649 514.8 L596 519.1 Q591.6 518 591.6 512.2 Q591.8 505.8 595.2 505.2Z" fill="#c4c4c4" stroke="#333" stroke-width="0.9"/><ellipse cx="595.3" cy="512.2" rx="3.4" ry="6.9" fill="#bdbdbd" stroke="#333" stroke-width="0.9" transform="rotate(-4 595.3 512.2)"/><ellipse cx="595.6" cy="512.2" rx="2.1" ry="5" fill="#d8d8d8" stroke="#555" stroke-width="0.7" transform="rotate(-4 595.6 512.2)"/><path d="M652.6 505.4 L668.5 505.2 Q673 505.6 677 510 L684.5 518 Q687.5 521 692 521.6 L700 522.6 L700.5 526.8 L690 526 Q684.5 525.3 681 521.5 L673.5 513.5 Q671 510.8 667.5 510.6 L652.6 510.8Z" fill="#b9b9b9" stroke="#333" stroke-width="0.9" stroke-linejoin="round"/><path d="M683.5 510.4 L688 509.6 L777.4 518 L777.6 519.8 L711.6 537.6 L710 536 L698.3 524.3Z" fill="#858585" stroke="#333" stroke-width="0.8" stroke-linejoin="round"/><path d="M683.5 510.4 L688 509.6 L777.4 518 L711.3 535.5 L698.3 524.3Z" fill="#cacaca" stroke="#333" stroke-width="0.9" stroke-linejoin="round"/><path d="M684.2 510.6 L736.5 520.2 L698.6 524.2" fill="none" stroke="#333" stroke-width="0.8" /><path d="M711.3 510.6 C711.3 510.6 713.8 505.6 715.7 503.5 C717.6 501.4 719.5 500.6 722 499 C724.5 497.4 726.7 496.3 729.6 494.8 C732.5 493.3 735.2 490.9 738.3 490.4 C741.4 489.9 744.5 490.8 747 492.2 C749.5 493.6 750.3 495.3 752.2 498.3 C754.1 501.3 754.6 505.7 757.4 508.7 C760.2 511.7 767.8 515.2 767.8 515.2 C767.8 515.2 761.3 517.3 756 518 C750.7 518.7 745.2 519.2 738.3 519.1 C731.4 519 722.3 518.9 717.4 517.4 C712.5 515.9 711.3 510.6 711.3 510.6Z" fill="#a2a2a2" stroke="#333" stroke-width="0.9" stroke-linejoin="round"/></g>
<!--/PANEL2B-->
<!--PANEL3-->
<defs><clipPath id="c3"><rect x="518.7" y="578.7" width="284.8" height="336.2"/></clipPath></defs><g id="p3"><g clip-path="url(#c3)"><path d="M518.7 633.2 L566 620.5" fill="none" stroke="#efefef" stroke-width="2.5" /><path d="M518.7 631.7 L566 619.1" fill="none" stroke="#c6c6c6" stroke-width="1" /><path d="M518.7 634.6 L566 622" fill="none" stroke="#c6c6c6" stroke-width="1" /><path d="M518.7 695 L566 682.3" fill="none" stroke="#efefef" stroke-width="2.5" /><path d="M518.7 693.5 L566 680.9" fill="none" stroke="#c6c6c6" stroke-width="1" /><path d="M518.7 696.4 L566 683.8" fill="none" stroke="#c6c6c6" stroke-width="1" /><path d="M518.7 753.7 L566 741" fill="none" stroke="#efefef" stroke-width="2.5" /><path d="M518.7 752.2 L566 739.6" fill="none" stroke="#c6c6c6" stroke-width="1" /><path d="M518.7 755.1 L566 742.5" fill="none" stroke="#c6c6c6" stroke-width="1" /><path d="M518.7 812.8 L566 800.1" fill="none" stroke="#efefef" stroke-width="2.5" /><path d="M518.7 811.3 L566 798.7" fill="none" stroke="#c6c6c6" stroke-width="1" /><path d="M518.7 814.2 L566 801.6" fill="none" stroke="#c6c6c6" stroke-width="1" /><path d="M518.7 873.7 L533.5 870.1" fill="none" stroke="#efefef" stroke-width="2.5" /><path d="M518.7 872.2 L533.5 868.6" fill="none" stroke="#c6c6c6" stroke-width="1" /><path d="M518.7 875.1 L533.5 871.5" fill="none" stroke="#c6c6c6" stroke-width="1" /><path d="M526 578 L526 630" fill="none" stroke="#efefef" stroke-width="2.5" /><path d="M524.5 578 L524.5 630" fill="none" stroke="#c6c6c6" stroke-width="1" /><path d="M527.5 578 L527.5 630" fill="none" stroke="#c6c6c6" stroke-width="1" /><path d="M625.6 578 L625.6 603.5" fill="none" stroke="#efefef" stroke-width="2.5" /><path d="M624.1 578 L624.1 603.5" fill="none" stroke="#c6c6c6" stroke-width="1" /><path d="M627.1 578 L627.1 603.5" fill="none" stroke="#c6c6c6" stroke-width="1" /><path d="M565.7 621.3 L720.9 578.7 L768.7 578.7 L768.7 806.1 L717.4 822.6 L717.4 878.3 L633.5 900.9 L633.5 844.3 L565.7 861.7Z" fill="#e3e3e3" stroke="none" stroke-width="1" /><path d="M565.7 861.7 L565.7 621.3 L720.9 578.7" fill="none" stroke="#aaa" stroke-width="1" /><path d="M563.6 622 L563.6 680" fill="none" stroke="#c6c6c6" stroke-width="0.8" /><path d="M565.7 660.7 L745.2 612.3" fill="none" stroke="#ececec" stroke-width="2.2" /><path d="M565.7 659.4 L745.2 611" fill="none" stroke="#c0c0c0" stroke-width="0.8" /><path d="M565.7 662 L745.2 613.6" fill="none" stroke="#c0c0c0" stroke-width="0.8" /><path d="M599 771.1 L745.2 731.9" fill="none" stroke="#ececec" stroke-width="2.2" /><path d="M599 769.8 L745.2 730.6" fill="none" stroke="#c0c0c0" stroke-width="0.8" /><path d="M599 772.4 L745.2 733.2" fill="none" stroke="#c0c0c0" stroke-width="0.8" /><path d="M565.7 840.9 L696 805.9" fill="none" stroke="#ececec" stroke-width="2.2" /><path d="M565.7 839.6 L696 804.6" fill="none" stroke="#c0c0c0" stroke-width="0.8" /><path d="M565.7 842.2 L696 807.2" fill="none" stroke="#c0c0c0" stroke-width="0.8" /><path d="M633.5 880.6 L696 863.9" fill="none" stroke="#ececec" stroke-width="2.2" /><path d="M633.5 879.3 L696 862.6" fill="none" stroke="#c0c0c0" stroke-width="0.8" /><path d="M633.5 881.9 L696 865.2" fill="none" stroke="#c0c0c0" stroke-width="0.8" /><path d="M638.7 601.5 L638.7 640" fill="none" stroke="#ececec" stroke-width="1.6" /><path d="M637.7 601.5 L637.7 640" fill="none" stroke="#c0c0c0" stroke-width="0.8" /><path d="M639.7 601.5 L639.7 640" fill="none" stroke="#c0c0c0" stroke-width="0.8" /><path d="M589.1 793 L589.1 833" fill="none" stroke="#ececec" stroke-width="1.6" /><path d="M588.1 793 L588.1 833" fill="none" stroke="#c0c0c0" stroke-width="0.8" /><path d="M590.1 793 L590.1 833" fill="none" stroke="#c0c0c0" stroke-width="0.8" /><path d="M689.6 748.7 L689.6 806" fill="none" stroke="#ececec" stroke-width="1.6" /><path d="M688.6 748.7 L688.6 806" fill="none" stroke="#c0c0c0" stroke-width="0.8" /><path d="M690.6 748.7 L690.6 806" fill="none" stroke="#c0c0c0" stroke-width="0.8" /><path d="M638.7 821.7 L638.7 879" fill="none" stroke="#ececec" stroke-width="1.6" /><path d="M637.7 821.7 L637.7 879" fill="none" stroke="#c0c0c0" stroke-width="0.8" /><path d="M639.7 821.7 L639.7 879" fill="none" stroke="#c0c0c0" stroke-width="0.8" /><path d="M742 578 L742 611.5" fill="none" stroke="#ececec" stroke-width="3.0" /><path d="M740.3 578 L740.3 611.5" fill="none" stroke="#c0c0c0" stroke-width="0.8" /><path d="M743.7 578 L743.7 611.5" fill="none" stroke="#c0c0c0" stroke-width="0.8" /><path d="M745.2 578 L745.2 793" fill="none" stroke="#c0c0c0" stroke-width="0.9" /><path d="M745.2 613.1 L768.7 627.1" fill="none" stroke="#ececec" stroke-width="2.4" /><path d="M745.2 611.7 L768.7 625.7" fill="none" stroke="#c0c0c0" stroke-width="0.8" /><path d="M745.2 614.5 L768.7 628.5" fill="none" stroke="#c0c0c0" stroke-width="0.8" /><path d="M745.2 672.3 L768.7 686.3" fill="none" stroke="#ececec" stroke-width="2.4" /><path d="M745.2 670.9 L768.7 684.9" fill="none" stroke="#c0c0c0" stroke-width="0.8" /><path d="M745.2 673.7 L768.7 687.7" fill="none" stroke="#c0c0c0" stroke-width="0.8" /><path d="M745.2 732.4 L768.7 746.4" fill="none" stroke="#ececec" stroke-width="2.4" /><path d="M745.2 731 L768.7 745" fill="none" stroke="#c0c0c0" stroke-width="0.8" /><path d="M745.2 733.8 L768.7 747.8" fill="none" stroke="#c0c0c0" stroke-width="0.8" /><path d="M768.7 578 L768.7 806.1" fill="none" stroke="#b5b5b5" stroke-width="1" /><path d="M768.7 627.2 L803.5 617.6" fill="none" stroke="#efefef" stroke-width="2.5" /><path d="M768.7 625.7 L803.5 616.1" fill="none" stroke="#c6c6c6" stroke-width="1" /><path d="M768.7 628.6 L803.5 619" fill="none" stroke="#c6c6c6" stroke-width="1" /><path d="M768.7 687.2 L803.5 677.6" fill="none" stroke="#efefef" stroke-width="2.5" /><path d="M768.7 685.7 L803.5 676.1" fill="none" stroke="#c6c6c6" stroke-width="1" /><path d="M768.7 688.6 L803.5 679" fill="none" stroke="#c6c6c6" stroke-width="1" /><path d="M768.7 747.6 L803.5 738" fill="none" stroke="#efefef" stroke-width="2.5" /><path d="M768.7 746.1 L803.5 736.5" fill="none" stroke="#c6c6c6" stroke-width="1" /><path d="M768.7 749 L803.5 739.4" fill="none" stroke="#c6c6c6" stroke-width="1" /><path d="M768.7 806.7 L803.5 797.1" fill="none" stroke="#efefef" stroke-width="2.5" /><path d="M768.7 805.2 L803.5 795.6" fill="none" stroke="#c6c6c6" stroke-width="1" /><path d="M768.7 808.1 L803.5 798.5" fill="none" stroke="#c6c6c6" stroke-width="1" /><path d="M565.7 841.7 L612.6 831.3 L633.5 844.3 L565.7 861.7Z" fill="#e6e6e6" stroke="none" stroke-width="1" /><path d="M565.7 841.7 L612.6 831.3 L633.5 844.3" fill="none" stroke="#c0c0c0" stroke-width="0.9" /><path d="M533.5 869.6 L633.5 844.3 L633.5 900.9" fill="none" stroke="#a0a0a0" stroke-width="1" /><path d="M533.5 869.6 L533.5 915" fill="none" stroke="#c6c6c6" stroke-width="1" /><path d="M536 869 L536 915" fill="none" stroke="#c6c6c6" stroke-width="1" /><path d="M581.3 915 L717.4 878.3 L803.5 855.7" fill="none" stroke="#a8a8a8" stroke-width="1" /><path d="M695.7 809.6 L747 793 L768.7 806.1 L717.4 822.6Z" fill="#e6e6e6" stroke="#c0c0c0" stroke-width="0.9" /><path d="M695.7 809.6 L717.4 822.6 L717.4 878.3 L695.7 864.3Z" fill="#dddddd" stroke="#c0c0c0" stroke-width="0.9" /><path d="M717.4 878.3 L717.4 822.6 L768.7 806.1" fill="none" stroke="#a8a8a8" stroke-width="1" /></g><path d="M565.7 672.6 L579.6 669.6 L579.6 687 L565.7 690Z" fill="#fff" stroke="#666" stroke-width="0.9" stroke-linejoin="round"/><path d="M732.2 626 L740.6 624.2 L741.7 625 L741.7 637 L736.5 639.6 L732.2 639.6Z" fill="#fff" stroke="#666" stroke-width="0.9" stroke-linejoin="round"/><circle cx="739.2" cy="631.2" r="0.9" fill="#ddd" stroke="#555" stroke-width="0.6"/><path d="M737.6 716.5 L741.5 715.5 L742.8 716.3 L742.8 731 L737.6 732.3Z" fill="#fff" stroke="#666" stroke-width="0.9" stroke-linejoin="round"/><circle cx="740.4" cy="723.8" r="0.9" fill="#ddd" stroke="#555" stroke-width="0.6"/><g transform="translate(362 242.5)"><path d="M208.1 417.7 L227.5 429 L227.5 551 L208.1 538.4Z" fill="#e9e9e9" stroke="none" stroke-width="1" /><path d="M208.1 417.7 L208.1 538.4 L218 544.5" fill="none" stroke="#777" stroke-width="1" /><path d="M218 544.5 L227.5 551" fill="none" stroke="#3c3c3c" stroke-width="1.2" /><path d="M214 531 L214 536 L227.5 546" fill="none" stroke="#777" stroke-width="0.9" /><path d="M216.6 422.5 L216.6 462" fill="none" stroke="#777" stroke-width="0.8" /><path d="M217.6 462.7 L227 465.3 L227 517 L217.6 514.4Z" fill="#fff" stroke="#3c3c3c" stroke-width="1.1" /><path d="M221.3 467 L221.3 512" fill="none" stroke="#444" stroke-width="0.7" /><path d="M223.4 467.5 L223.4 512.5" fill="none" stroke="#444" stroke-width="0.7" /><path d="M222.3 508 L222.3 513.5" fill="none" stroke="#3c3c3c" stroke-width="1.6" /><ellipse cx="222.6" cy="482" rx="2.3" ry="2" fill="#2b2b2b"/><ellipse cx="222.6" cy="497.7" rx="2.3" ry="2" fill="#2b2b2b"/><path d="M221.5 517 L227 519 L227 526 L221.5 524Z" fill="#fff" stroke="#666" stroke-width="0.7" /><path d="M208.1 417.7 L357.5 377.3 L373.9 389.1 L228 428.3Z" fill="#f0f0f0" stroke="#3c3c3c" stroke-width="1" /><path d="M289.5 396.4 L298 409.6" fill="none" stroke="#333" stroke-width="0.8" /><path d="M293 395.4 L301.5 408.7" fill="none" stroke="#333" stroke-width="0.8" /><path d="M237.5 444.5 L366 410.3 L366 478.8 L237.8 513Z" fill="#fff" stroke="none" stroke-width="1" /><path d="M228 428.3 L373.9 389.1 L366.7 400.2 L237.2 434.5Z" fill="#fff" stroke="#3c3c3c" stroke-width="1" /><path d="M228 428.3 L345 396.9" fill="none" stroke="#fff" stroke-width="2" /><path d="M228 428.3 L345 396.9" fill="none" stroke="#3c3c3c" stroke-width="1.6" stroke-dasharray="1.3 1.5"/><path d="M345 396.9 L373.9 389.1" fill="none" stroke="#3c3c3c" stroke-width="1.8" /><path d="M237.4 444.3 L366.3 409.9" fill="none" stroke="#3c3c3c" stroke-width="1.1" /><path d="M237.4 447.6 L366.3 413.2" fill="none" stroke="#444" stroke-width="0.9" /><path d="M237.4 436.8 L366.3 402.4" fill="none" stroke="#888" stroke-width="0.6" /><path d="M237.8 513 L356 481.3" fill="none" stroke="#3c3c3c" stroke-width="1.1" /><circle cx="277.9" cy="441.8" r="1.8" fill="#555"/><circle cx="282.7" cy="442.7" r="1.8" fill="#555"/><circle cx="272.7" cy="445.3" r="1.8" fill="#555"/><circle cx="285.3" cy="447.9" r="1.8" fill="#555"/><circle cx="270.5" cy="451.4" r="1.8" fill="#555"/><circle cx="267.9" cy="454.9" r="1.8" fill="#555"/><circle cx="283.1" cy="453.6" r="1.8" fill="#555"/><circle cx="262.7" cy="459.2" r="1.8" fill="#555"/><circle cx="272.7" cy="457" r="1.8" fill="#555"/><circle cx="277.5" cy="456.6" r="1.8" fill="#555"/><circle cx="276.2" cy="460.1" r="1.8" fill="#555"/><circle cx="260.5" cy="464.4" r="1.8" fill="#555"/><circle cx="274.4" cy="461.8" r="1.8" fill="#555"/><circle cx="262.7" cy="469.7" r="1.8" fill="#555"/><circle cx="272.7" cy="467.5" r="1.8" fill="#555"/><circle cx="267.5" cy="471.4" r="1.8" fill="#555"/><circle cx="275.7" cy="471.8" r="1.8" fill="#555"/><circle cx="280.5" cy="472.3" r="1.8" fill="#555"/><circle cx="270.5" cy="475.7" r="1.8" fill="#555"/><circle cx="283.1" cy="477" r="1.8" fill="#555"/><circle cx="267.9" cy="481.8" r="1.8" fill="#555"/><circle cx="265.3" cy="485.3" r="1.8" fill="#555"/><circle cx="281" cy="484" r="1.8" fill="#555"/><circle cx="260.1" cy="489.7" r="1.8" fill="#555"/><circle cx="270.1" cy="486.6" r="1.8" fill="#555"/><circle cx="275.3" cy="488.8" r="1.8" fill="#555"/><circle cx="257.9" cy="495.3" r="1.8" fill="#555"/><circle cx="272.7" cy="493.1" r="1.8" fill="#555"/><circle cx="260.5" cy="500.5" r="1.8" fill="#555"/><circle cx="265.3" cy="501.8" r="1.8" fill="#555"/><circle cx="270.1" cy="498.3" r="1.8" fill="#555"/><circle cx="306.2" cy="435.3" r="1.8" fill="#555"/><circle cx="311" cy="435.3" r="1.8" fill="#555"/><circle cx="299.2" cy="443.6" r="1.8" fill="#555"/><circle cx="314" cy="440.5" r="1.8" fill="#555"/><circle cx="316.2" cy="441.8" r="1.8" fill="#555"/><circle cx="321.4" cy="443.1" r="1.8" fill="#555"/><circle cx="300.5" cy="448.8" r="1.8" fill="#555"/><circle cx="311" cy="446.6" r="1.8" fill="#555"/><circle cx="323.6" cy="448.3" r="1.8" fill="#555"/><circle cx="305.3" cy="450.1" r="1.8" fill="#555"/><circle cx="308.3" cy="451.8" r="1.8" fill="#555"/><circle cx="321" cy="454.4" r="1.8" fill="#555"/><circle cx="311" cy="457" r="1.8" fill="#555"/><circle cx="316.2" cy="458.8" r="1.8" fill="#555"/><circle cx="308.3" cy="463.6" r="1.8" fill="#555"/><circle cx="314" cy="464.4" r="1.8" fill="#555"/><circle cx="303.6" cy="467" r="1.8" fill="#555"/><circle cx="316.2" cy="469.2" r="1.8" fill="#555"/><circle cx="318.8" cy="471" r="1.8" fill="#555"/><circle cx="323.6" cy="472.3" r="1.8" fill="#555"/><circle cx="301.4" cy="473.1" r="1.8" fill="#555"/><circle cx="314" cy="475.3" r="1.8" fill="#555"/><circle cx="326.2" cy="477.5" r="1.8" fill="#555"/><circle cx="303.6" cy="478.3" r="1.8" fill="#555"/><circle cx="308.3" cy="479.2" r="1.8" fill="#555"/><circle cx="311" cy="481.4" r="1.8" fill="#555"/><circle cx="323.6" cy="483.6" r="1.8" fill="#555"/><circle cx="312.3" cy="485.7" r="1.8" fill="#555"/><circle cx="318.8" cy="487.5" r="1.8" fill="#555"/><circle cx="303.1" cy="438.8" r="1.8" fill="#555"/><circle cx="318.3" cy="445.3" r="1.8" fill="#555"/><circle cx="355.2" cy="473.2" r="1.8" fill="#555"/><circle cx="353" cy="477.9" r="1.8" fill="#555"/><circle cx="349.1" cy="480.9" r="1.8" fill="#555"/><circle cx="344.9" cy="481.1" r="1.8" fill="#555"/><circle cx="341.9" cy="478.4" r="1.8" fill="#555"/><circle cx="341.4" cy="473.8" r="1.8" fill="#555"/><circle cx="343.6" cy="469.1" r="1.8" fill="#555"/><circle cx="347.5" cy="466.1" r="1.8" fill="#555"/><circle cx="351.7" cy="465.9" r="1.8" fill="#555"/><circle cx="354.7" cy="468.6" r="1.8" fill="#555"/><circle cx="241" cy="494.5" r="1.8" fill="#555"/><circle cx="243.6" cy="500.5" r="1.8" fill="#555"/><circle cx="241" cy="506.6" r="1.8" fill="#555"/><circle cx="238.6" cy="492" r="1.8" fill="#555"/><circle cx="238.6" cy="509.5" r="1.8" fill="#555"/><rect x="360.5" y="428" width="3" height="48.5" rx="1.5" fill="#fff" stroke="#3c3c3c" stroke-width="0.9"/><path d="M362 431 L362 474" fill="none" stroke="#666" stroke-width="0.6" /><ellipse cx="362" cy="444.3" rx="2.3" ry="2.1" fill="#2b2b2b"/><ellipse cx="362" cy="460.8" rx="2.3" ry="2.1" fill="#2b2b2b"/><path d="M362 470 L362 476.5" fill="none" stroke="#3c3c3c" stroke-width="1.5" /><path d="M356 481.3 L366 478.6 L366 508 L356 503Z" fill="#fff" stroke="none" stroke-width="1" /><path d="M356.3 481.5 L365.5 479 L365.5 492.6 L356.3 492.6Z" fill="#d0d0d0" stroke="#444" stroke-width="0.8" /><path d="M346.5 484 L356.2 481.4 L356.2 500.5 L353.5 502.8 L346.5 501Z" fill="#fff" stroke="#3c3c3c" stroke-width="1" stroke-linejoin="round"/><path d="M356.3 492.6 L356.3 499.5 L366 506" fill="none" stroke="#3c3c3c" stroke-width="1" /><path d="M357.8 495.4 L365.5 493.3" fill="none" stroke="#555" stroke-width="0.8" /><path d="M357.8 495.4 L357.8 500.3" fill="none" stroke="#555" stroke-width="0.8" /><path d="M227.5 428.4 L237.2 434.5 L237 547.5 L235.8 549.8 L229 551.8 L227.5 550.2Z" fill="#fff" stroke="#3c3c3c" stroke-width="1" stroke-linejoin="round"/><path d="M227.5 428.4 L227.5 550.2" fill="none" stroke="#3c3c3c" stroke-width="1.9" /><path d="M229.4 430.4 L229.4 550" fill="none" stroke="#888" stroke-width="0.6" /><rect x="229.9" y="467.2" width="4.8" height="9" rx="1.9" fill="#fff" stroke="#3c3c3c" stroke-width="0.95"/><rect x="229.9" y="483.5" width="4.8" height="9" rx="1.9" fill="#fff" stroke="#3c3c3c" stroke-width="0.95"/><rect x="229.9" y="499.1" width="4.8" height="9" rx="1.9" fill="#fff" stroke="#3c3c3c" stroke-width="0.95"/><rect x="229.9" y="514.1" width="4.8" height="9" rx="1.9" fill="#fff" stroke="#3c3c3c" stroke-width="0.95"/><path d="M366 400.2 L373.9 389.1 L375.5 390 L375.5 508.7 L374.3 511 L367.5 513 L366 511.4Z" fill="#fff" stroke="#3c3c3c" stroke-width="1" stroke-linejoin="round"/><path d="M366 400.2 L366 511.4" fill="none" stroke="#3c3c3c" stroke-width="1.9" /><path d="M367.9 402.2 L367.9 511.2" fill="none" stroke="#888" stroke-width="0.6" /><rect x="368.4" y="429.8" width="4.8" height="9" rx="1.9" fill="#fff" stroke="#3c3c3c" stroke-width="0.95"/><rect x="368.4" y="445.5" width="4.8" height="9" rx="1.9" fill="#fff" stroke="#3c3c3c" stroke-width="0.95"/><rect x="368.4" y="461.1" width="4.8" height="9" rx="1.9" fill="#fff" stroke="#3c3c3c" stroke-width="0.95"/><path d="M373.9 389.1 L366.3 400.4" fill="none" stroke="#3c3c3c" stroke-width="1" /><path d="M228 428.6 L237.2 434.5" fill="none" stroke="#3c3c3c" stroke-width="1" /><ellipse cx="370.6" cy="481.6" rx="2.7" ry="4.3" fill="#fff" stroke="#3c3c3c" stroke-width="1.3"/><ellipse cx="370" cy="482" rx="1.4" ry="2.4" fill="#777" stroke="#333" stroke-width="0.5"/><path d="M246 419.5 L251 421.7" fill="none" stroke="#222" stroke-width="2" /><path d="M274.5 411.9 L279.5 414.1" fill="none" stroke="#222" stroke-width="2" /><path d="M301.1 404.8 L306.1 407" fill="none" stroke="#222" stroke-width="2" /><path d="M339 394.7 L344 396.9" fill="none" stroke="#222" stroke-width="2" /><ellipse cx="260.7" cy="423.3" rx="2.3" ry="3.2" fill="#fff" stroke="#333" stroke-width="0.8" transform="rotate(18 260.7 423.3)"/><ellipse cx="333.5" cy="403.9" rx="2.3" ry="3.2" fill="#fff" stroke="#333" stroke-width="0.8" transform="rotate(18 333.5 403.9)"/><path d="M268 419.5 L288.6 431.2" fill="none" stroke="#858585" stroke-width="4.6" stroke-linecap="round"/><path d="M268 419.5 L288.6 431.2" fill="none" stroke="#777" stroke-width="1.0" stroke-dasharray="0.7 0.9"/><ellipse cx="291.5" cy="433" rx="5" ry="7.4" fill="#858585" transform="rotate(-14 291.5 433)"/><ellipse cx="292.5" cy="433.5" rx="3.2" ry="5" fill="#f2f2f2" stroke="#222" stroke-width="0.6" transform="rotate(-14 292.5 433.5)"/><ellipse cx="293.1" cy="433.9" rx="2.2" ry="3.3" fill="#555" transform="rotate(-14 293.1 433.9)"/><path d="M293.5 434.1 L300.3 437.9" fill="none" stroke="#858585" stroke-width="4" /><ellipse cx="300.6" cy="438.1" rx="1.5" ry="1.9" fill="#ddd" stroke="#333" stroke-width="0.7"/><path d="M331 401.7 L349.5 413.5" fill="none" stroke="#858585" stroke-width="4.6" stroke-linecap="round"/><path d="M331 401.7 L349.5 413.5" fill="none" stroke="#777" stroke-width="1.0" stroke-dasharray="0.7 0.9"/><ellipse cx="352.4" cy="416.3" rx="5" ry="7.4" fill="#858585" transform="rotate(-14 352.4 416.3)"/><ellipse cx="353.4" cy="416.8" rx="3.2" ry="5" fill="#f2f2f2" stroke="#222" stroke-width="0.6" transform="rotate(-14 353.4 416.8)"/><ellipse cx="354" cy="417.2" rx="2.2" ry="3.3" fill="#555" transform="rotate(-14 354 417.2)"/><path d="M354.4 417.4 L361.2 421.2" fill="none" stroke="#858585" stroke-width="4" /><ellipse cx="361.5" cy="421.4" rx="1.5" ry="1.9" fill="#ddd" stroke="#333" stroke-width="0.7"/><path d="M289.7 459 L292.3 454.7 L295.2 458.2 L295.2 478.5 L289.7 479.5Z" fill="#fff" stroke="#3c3c3c" stroke-width="0.9" stroke-linejoin="round"/><path d="M291.4 460.8 L293.6 460.8" fill="none" stroke="#222" stroke-width="0.7" /><path d="M292.5 459.7 L292.5 461.9" fill="none" stroke="#222" stroke-width="0.7" /><path d="M291.4 464.6 L293.6 464.6" fill="none" stroke="#222" stroke-width="0.7" /><path d="M292.5 463.5 L292.5 465.7" fill="none" stroke="#222" stroke-width="0.7" /><path d="M291.4 468.2 L293.6 468.2" fill="none" stroke="#222" stroke-width="0.7" /><path d="M292.5 467.1 L292.5 469.3" fill="none" stroke="#222" stroke-width="0.7" /><ellipse cx="292.9" cy="472" rx="2.3" ry="2.1" fill="#2b2b2b"/><path d="M272.7 502.7 L272.7 513.5 A10.45 3.6 0 0 0 293.6 513.5 L293.6 497 L283 493.5 Q274.5 495.5 272.7 502.7Z" fill="#fff" stroke="#555" stroke-width="0.9"/><path d="M289.4 476.8 L295.3 477.3 L301.2 480.1 L298.8 482.5 L292.3 479.6Z" fill="#fff" stroke="#3c3c3c" stroke-width="0.9" stroke-linejoin="round"/><path d="M281.9 488.3 L282.1 486.7 L282.5 485.1 L283.1 483.6 L283.9 482.2 L284.8 481 L285.9 479.9 L287.1 479 L288.4 478.4 L289.7 478 L291.1 477.9 L292.4 478 L293.7 478.3 L294.9 478.9 L312.1 489.1 L313.3 489.9 L314.4 491 L315.2 492.3 L315.9 493.7 L316.4 495.2 L316.7 496.9 L316.7 498.5 L316.6 500.2 L316.2 501.8 L315.6 503.4 L314.7 504.8 L313.8 506.1 L312.6 507.2 L311.4 508.1 L310 508.7 L308.6 509.1 L307.2 509.2 L305.7 509.1 L304.4 508.8 L303.1 508.1 L286.3 497.5 L285.1 496.6 L284.2 495.6 L283.3 494.4 L282.7 493 L282.2 491.5 L282 489.9Z" fill="#fff" stroke="#2a2a2a" stroke-width="1.0" stroke-linejoin="round"/><path d="M290.4 499.8 L288.9 499.2 L287.6 498.2 L286.4 497 L285.5 495.5 L284.8 493.8 L284.4 492 L284.3 490.1 L284.4 488.2 L284.9 486.3 L285.7 484.5 L286.7 482.9 L287.9 481.6 L289.3 480.5 L290.8 479.8 L292.4 479.3 L294 479.3" fill="none" stroke="#777" stroke-width="0.6" /><path d="M292.5 501.1 L291 500.4 L289.6 499.5 L288.4 498.2 L287.5 496.8 L286.8 495.1 L286.3 493.2 L286.2 491.3 L286.4 489.4 L286.9 487.5 L287.7 485.8 L288.7 484.2 L289.9 482.8 L291.3 481.7 L292.8 481 L294.5 480.6 L296.1 480.5" fill="none" stroke="#444" stroke-width="0.9" /><path d="M294.5 502.3 L293 501.7 L291.6 500.8 L290.4 499.5 L289.4 498 L288.7 496.3 L288.3 494.5 L288.2 492.6 L288.4 490.6 L288.9 488.7 L289.7 487 L290.7 485.4 L291.9 484 L293.3 483 L294.9 482.2 L296.5 481.8 L298.1 481.7" fill="none" stroke="#888" stroke-width="0.6" /><path d="M298.5 504.9 L297 504.3 L295.6 503.3 L294.4 502.1 L293.4 500.6 L292.7 498.8 L292.3 497 L292.2 495 L292.4 493.1 L292.9 491.2 L293.6 489.4 L294.7 487.8 L295.9 486.5 L297.3 485.4 L298.9 484.6 L300.5 484.2 L302.2 484.1" fill="none" stroke="#444" stroke-width="0.9" /><path d="M316.6 500.2 L316.2 501.8 L315.5 503.4 L314.7 504.8 L313.8 506.1 L312.6 507.2 L311.4 508.1 L310 508.7 L308.6 509.1 L307.2 509.3 L305.7 509.1 L304.4 508.8 L303.1 508.1 L301.9 507.3 L300.8 506.2 L299.9 504.9 L299.3 503.5 L298.8 502 L298.5 500.4 L298.5 498.7 L298.6 497 L299 495.4 L299.7 493.8 L300.5 492.4 L301.4 491.1 L302.6 490 L303.8 489.1 L305.2 488.5 L306.6 488.1 L308 487.9 L309.5 488.1 L310.8 488.4 L312.1 489.1 L313.3 489.9 L314.4 491 L315.3 492.3 L315.9 493.7 L316.4 495.2 L316.7 496.8 L316.7 498.5 L316.6 500.2Z" fill="#fff" stroke="#2a2a2a" stroke-width="1.5"/><path d="M315.1 500.1 L314.8 501.4 L314.3 502.7 L313.6 503.8 L312.8 504.9 L311.9 505.8 L310.9 506.5 L309.8 507 L308.7 507.3 L307.5 507.5 L306.4 507.4 L305.3 507.1 L304.2 506.6 L303.3 505.9 L302.5 505 L301.7 504 L301.2 502.8 L300.8 501.6 L300.6 500.2 L300.6 498.9 L300.7 497.5 L301 496.2 L301.5 494.9 L302.2 493.8 L303 492.7 L303.9 491.8 L304.9 491.1 L306 490.6 L307.1 490.3 L308.3 490.1 L309.4 490.2 L310.5 490.5 L311.6 491 L312.5 491.7 L313.3 492.6 L314.1 493.6 L314.6 494.8 L315 496 L315.2 497.4 L315.2 498.7 L315.1 500.1Z" fill="#fff" stroke="#555" stroke-width="0.8"/><path d="M312.5 479 L314.8 486.5" fill="none" stroke="#222" stroke-width="2" /><path d="M285 500.5 L290.5 505.5" fill="none" stroke="#222" stroke-width="1.6" /></g></g>
<!--/PANEL3-->
</svg>

<svg id="labs" width="920" height="1290" viewBox="0 0 920 1290" font-family="Liberation Sans, sans-serif" font-size="27.8" fill="#000" stroke="#000" stroke-width="0.75">
<g fill="#b2b2b2" stroke="none">
<rect x="98.3" y="311.2" width="353.2" height="25.4"/>
<rect x="98.3" y="311.2" width="42.2" height="63.3"/>
<rect x="98.4" y="712.6" width="42.2" height="37"/>
<rect x="468.9" y="311.4" width="42.2" height="36.9"/>
<rect x="469" y="556.1" width="42.1" height="37.4"/>
</g>
<text x="110.7" y="360">1</text>
<rect x="111" y="356.7" width="6.4" height="4.6" fill="#b2b2b2" stroke="none"/>
<rect x="121.6" y="356.7" width="5" height="4.6" fill="#b2b2b2" stroke="none"/>
<text x="102.6" y="735.9">2A</text>
<text x="472.6" y="334.6">2B</text>
<text x="481.6" y="579.8">3</text>
</svg>
<div class="addr">Geberit International AG<br>Schachenstrasse 77<br>CH-8645 Jona<br>www.geberit.com<br>dokumentation@geberit.com</div>
<div class="vert">D34698-001&amp;BDC © 12-2008</div>
<div class="pno">2</div>
</body></html>
